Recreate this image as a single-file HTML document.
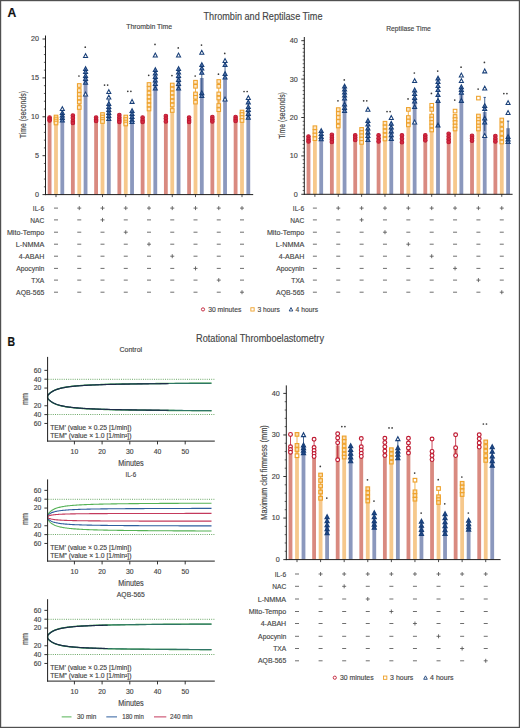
<!DOCTYPE html>
<html><head><meta charset="utf-8"><title>Figure</title>
<style>
html,body{margin:0;padding:0;background:#fff;}
body{width:520px;height:728px;overflow:hidden;}
svg{display:block;font-family:"Liberation Sans",sans-serif;}
text{stroke:currentColor;stroke-width:0.15px;}
</style></head><body>
<svg width="520" height="728" viewBox="0 0 520 728">
<rect x="0" y="0" width="520" height="728" fill="#ffffff"/>
<text x="7.4" y="17.3" font-size="12" fill="#111111" color="#111111" font-weight="bold" textLength="8.8" lengthAdjust="spacingAndGlyphs">A</text>
<text x="263" y="19.8" font-size="10.4" fill="#454545" color="#454545" text-anchor="middle" textLength="119" lengthAdjust="spacingAndGlyphs">Thrombin and Reptilase Time</text>
<text x="149.2" y="29.2" font-size="7.4" fill="#454545" color="#454545" text-anchor="middle" textLength="46" lengthAdjust="spacingAndGlyphs">Thrombin Time</text>
<text x="408.5" y="30.6" font-size="7.4" fill="#454545" color="#454545" text-anchor="middle" textLength="44.6" lengthAdjust="spacingAndGlyphs">Reptilase Time</text>
<rect x="47.7" y="119.5" width="3.8" height="75.1" fill="#d98a80"/>
<rect x="54.1" y="118" width="3.8" height="76.6" fill="#f6c88c"/>
<rect x="60.4" y="117" width="3.8" height="77.6" fill="#8b98bd"/>
<line x1="49.6" y1="117.5" x2="49.6" y2="120.5" stroke="#bf1a32" stroke-width="0.8"/>
<circle cx="49.6" cy="117.5" r="1.8" stroke="#bf1a32" fill="#d32a40" stroke-width="1.05"/>
<circle cx="49.6" cy="119" r="1.8" stroke="#bf1a32" fill="#d32a40" stroke-width="1.05"/>
<circle cx="49.6" cy="120.5" r="1.8" stroke="#bf1a32" fill="#d32a40" stroke-width="1.05"/>
<line x1="56" y1="117" x2="56" y2="123" stroke="#eea12a" stroke-width="0.8"/>
<rect x="54.2" y="115.2" width="3.6" height="3.6" stroke="#eea12a" fill="#fde6c4" stroke-width="1.05"/>
<rect x="54.2" y="117.2" width="3.6" height="3.6" stroke="#eea12a" fill="#fde6c4" stroke-width="1.05"/>
<rect x="54.2" y="119.2" width="3.6" height="3.6" stroke="#eea12a" fill="#fde6c4" stroke-width="1.05"/>
<rect x="54.2" y="121.2" width="3.6" height="3.6" stroke="#eea12a" fill="#fde6c4" stroke-width="1.05"/>
<line x1="62.3" y1="113" x2="62.3" y2="120.5" stroke="#183f78" stroke-width="0.8"/>
<polygon points="62.3,106.66 60.25,110.56 64.35,110.56" stroke="#183f78" fill="#ffffff" stroke-width="1.05" stroke-linejoin="miter"/>
<polygon points="62.3,110.66 60.25,114.56 64.35,114.56" stroke="#183f78" fill="#5d7fb6" stroke-width="1.05" stroke-linejoin="miter"/>
<polygon points="62.3,113.16 60.25,117.06 64.35,117.06" stroke="#183f78" fill="#5d7fb6" stroke-width="1.05" stroke-linejoin="miter"/>
<polygon points="62.3,115.66 60.25,119.56 64.35,119.56" stroke="#183f78" fill="#5d7fb6" stroke-width="1.05" stroke-linejoin="miter"/>
<polygon points="62.3,118.16 60.25,122.06 64.35,122.06" stroke="#183f78" fill="#5d7fb6" stroke-width="1.05" stroke-linejoin="miter"/>
<rect x="70.95" y="119" width="3.8" height="75.6" fill="#d98a80"/>
<rect x="77.35" y="96" width="3.8" height="98.6" fill="#f6c88c"/>
<rect x="83.65" y="78" width="3.8" height="116.6" fill="#8b98bd"/>
<line x1="72.85" y1="115.5" x2="72.85" y2="123" stroke="#bf1a32" stroke-width="0.8"/>
<circle cx="72.85" cy="115.5" r="1.8" stroke="#bf1a32" fill="#d32a40" stroke-width="1.05"/>
<circle cx="72.85" cy="118" r="1.8" stroke="#bf1a32" fill="#d32a40" stroke-width="1.05"/>
<circle cx="72.85" cy="121" r="1.8" stroke="#bf1a32" fill="#d32a40" stroke-width="1.05"/>
<circle cx="72.85" cy="123" r="1.8" stroke="#bf1a32" fill="#d32a40" stroke-width="1.05"/>
<line x1="79.25" y1="85.5" x2="79.25" y2="107.5" stroke="#eea12a" stroke-width="0.8"/>
<rect x="77.45" y="83.7" width="3.6" height="3.6" stroke="#eea12a" fill="#fde6c4" stroke-width="1.05"/>
<rect x="77.45" y="88.7" width="3.6" height="3.6" stroke="#eea12a" fill="#fde6c4" stroke-width="1.05"/>
<rect x="77.45" y="92.7" width="3.6" height="3.6" stroke="#eea12a" fill="#fde6c4" stroke-width="1.05"/>
<rect x="77.45" y="96.2" width="3.6" height="3.6" stroke="#eea12a" fill="#fde6c4" stroke-width="1.05"/>
<rect x="77.45" y="100.2" width="3.6" height="3.6" stroke="#eea12a" fill="#fde6c4" stroke-width="1.05"/>
<rect x="77.45" y="105.7" width="3.6" height="3.6" stroke="#eea12a" fill="#fde6c4" stroke-width="1.05"/>
<line x1="85.55" y1="69" x2="85.55" y2="82.6" stroke="#183f78" stroke-width="0.8"/>
<polygon points="85.55,53.66 83.5,57.56 87.6,57.56" stroke="#183f78" fill="#ffffff" stroke-width="1.05" stroke-linejoin="miter"/>
<polygon points="85.55,66.66 83.5,70.56 87.6,70.56" stroke="#183f78" fill="#5d7fb6" stroke-width="1.05" stroke-linejoin="miter"/>
<polygon points="85.55,69.66 83.5,73.56 87.6,73.56" stroke="#183f78" fill="#5d7fb6" stroke-width="1.05" stroke-linejoin="miter"/>
<polygon points="85.55,73.46 83.5,77.36 87.6,77.36" stroke="#183f78" fill="#5d7fb6" stroke-width="1.05" stroke-linejoin="miter"/>
<polygon points="85.55,76.66 83.5,80.56 87.6,80.56" stroke="#183f78" fill="#5d7fb6" stroke-width="1.05" stroke-linejoin="miter"/>
<polygon points="85.55,80.26 83.5,84.16 87.6,84.16" stroke="#183f78" fill="#5d7fb6" stroke-width="1.05" stroke-linejoin="miter"/>
<polygon points="85.55,92.06 83.5,95.96 87.6,95.96" stroke="#183f78" fill="#ffffff" stroke-width="1.05" stroke-linejoin="miter"/>
<circle cx="78.95" cy="76" r="0.85" stroke="none" fill="#3a3a3a" stroke-width="0"/>
<circle cx="85.25" cy="47.2" r="0.85" stroke="none" fill="#3a3a3a" stroke-width="0"/>
<rect x="94.2" y="119" width="3.8" height="75.6" fill="#d98a80"/>
<rect x="100.6" y="117" width="3.8" height="77.6" fill="#f6c88c"/>
<rect x="106.9" y="109" width="3.8" height="85.6" fill="#8b98bd"/>
<line x1="96.1" y1="117.5" x2="96.1" y2="121" stroke="#bf1a32" stroke-width="0.8"/>
<circle cx="96.1" cy="117.5" r="1.8" stroke="#bf1a32" fill="#d32a40" stroke-width="1.05"/>
<circle cx="96.1" cy="119.5" r="1.8" stroke="#bf1a32" fill="#d32a40" stroke-width="1.05"/>
<circle cx="96.1" cy="121" r="1.8" stroke="#bf1a32" fill="#d32a40" stroke-width="1.05"/>
<line x1="102.5" y1="114.5" x2="102.5" y2="121.5" stroke="#eea12a" stroke-width="0.8"/>
<rect x="100.7" y="112.7" width="3.6" height="3.6" stroke="#eea12a" fill="#fde6c4" stroke-width="1.05"/>
<rect x="100.7" y="115.2" width="3.6" height="3.6" stroke="#eea12a" fill="#fde6c4" stroke-width="1.05"/>
<rect x="100.7" y="117.7" width="3.6" height="3.6" stroke="#eea12a" fill="#fde6c4" stroke-width="1.05"/>
<rect x="100.7" y="119.7" width="3.6" height="3.6" stroke="#eea12a" fill="#fde6c4" stroke-width="1.05"/>
<line x1="108.8" y1="100" x2="108.8" y2="119" stroke="#183f78" stroke-width="0.8"/>
<line x1="107.6" y1="100" x2="110" y2="100" stroke="#183f78" stroke-width="0.8"/>
<polygon points="108.8,89.66 106.75,93.56 110.85,93.56" stroke="#183f78" fill="#ffffff" stroke-width="1.05" stroke-linejoin="miter"/>
<polygon points="108.8,95.16 106.75,99.06 110.85,99.06" stroke="#183f78" fill="#ffffff" stroke-width="1.05" stroke-linejoin="miter"/>
<polygon points="108.8,101.66 106.75,105.56 110.85,105.56" stroke="#183f78" fill="#5d7fb6" stroke-width="1.05" stroke-linejoin="miter"/>
<polygon points="108.8,104.66 106.75,108.56 110.85,108.56" stroke="#183f78" fill="#5d7fb6" stroke-width="1.05" stroke-linejoin="miter"/>
<polygon points="108.8,107.66 106.75,111.56 110.85,111.56" stroke="#183f78" fill="#5d7fb6" stroke-width="1.05" stroke-linejoin="miter"/>
<polygon points="108.8,110.66 106.75,114.56 110.85,114.56" stroke="#183f78" fill="#5d7fb6" stroke-width="1.05" stroke-linejoin="miter"/>
<polygon points="108.8,113.66 106.75,117.56 110.85,117.56" stroke="#183f78" fill="#5d7fb6" stroke-width="1.05" stroke-linejoin="miter"/>
<polygon points="108.8,116.66 106.75,120.56 110.85,120.56" stroke="#183f78" fill="#5d7fb6" stroke-width="1.05" stroke-linejoin="miter"/>
<circle cx="104.55" cy="85.1" r="0.85" stroke="none" fill="#3a3a3a" stroke-width="0"/>
<circle cx="107.65" cy="85.1" r="0.85" stroke="none" fill="#3a3a3a" stroke-width="0"/>
<rect x="117.45" y="118" width="3.8" height="76.6" fill="#d98a80"/>
<rect x="123.85" y="120" width="3.8" height="74.6" fill="#f6c88c"/>
<rect x="130.15" y="115" width="3.8" height="79.6" fill="#8b98bd"/>
<line x1="119.35" y1="115" x2="119.35" y2="122" stroke="#bf1a32" stroke-width="0.8"/>
<circle cx="119.35" cy="115" r="1.8" stroke="#bf1a32" fill="#d32a40" stroke-width="1.05"/>
<circle cx="119.35" cy="117.5" r="1.8" stroke="#bf1a32" fill="#d32a40" stroke-width="1.05"/>
<circle cx="119.35" cy="120" r="1.8" stroke="#bf1a32" fill="#d32a40" stroke-width="1.05"/>
<circle cx="119.35" cy="122" r="1.8" stroke="#bf1a32" fill="#d32a40" stroke-width="1.05"/>
<line x1="125.75" y1="117" x2="125.75" y2="124" stroke="#eea12a" stroke-width="0.8"/>
<rect x="123.95" y="115.2" width="3.6" height="3.6" stroke="#eea12a" fill="#fde6c4" stroke-width="1.05"/>
<rect x="123.95" y="117.7" width="3.6" height="3.6" stroke="#eea12a" fill="#fde6c4" stroke-width="1.05"/>
<rect x="123.95" y="120.2" width="3.6" height="3.6" stroke="#eea12a" fill="#fde6c4" stroke-width="1.05"/>
<rect x="123.95" y="122.2" width="3.6" height="3.6" stroke="#eea12a" fill="#fde6c4" stroke-width="1.05"/>
<line x1="132.05" y1="111" x2="132.05" y2="122" stroke="#183f78" stroke-width="0.8"/>
<polygon points="132.05,99.46 130,103.36 134.1,103.36" stroke="#183f78" fill="#ffffff" stroke-width="1.05" stroke-linejoin="miter"/>
<polygon points="132.05,108.66 130,112.56 134.1,112.56" stroke="#183f78" fill="#5d7fb6" stroke-width="1.05" stroke-linejoin="miter"/>
<polygon points="132.05,111.66 130,115.56 134.1,115.56" stroke="#183f78" fill="#5d7fb6" stroke-width="1.05" stroke-linejoin="miter"/>
<polygon points="132.05,114.66 130,118.56 134.1,118.56" stroke="#183f78" fill="#5d7fb6" stroke-width="1.05" stroke-linejoin="miter"/>
<polygon points="132.05,117.66 130,121.56 134.1,121.56" stroke="#183f78" fill="#5d7fb6" stroke-width="1.05" stroke-linejoin="miter"/>
<polygon points="132.05,119.66 130,123.56 134.1,123.56" stroke="#183f78" fill="#5d7fb6" stroke-width="1.05" stroke-linejoin="miter"/>
<circle cx="127.8" cy="91.3" r="0.85" stroke="none" fill="#3a3a3a" stroke-width="0"/>
<circle cx="130.9" cy="91.3" r="0.85" stroke="none" fill="#3a3a3a" stroke-width="0"/>
<rect x="140.7" y="120" width="3.8" height="74.6" fill="#d98a80"/>
<rect x="147.1" y="97" width="3.8" height="97.6" fill="#f6c88c"/>
<rect x="153.4" y="76" width="3.8" height="118.6" fill="#8b98bd"/>
<line x1="142.6" y1="117.5" x2="142.6" y2="122" stroke="#bf1a32" stroke-width="0.8"/>
<circle cx="142.6" cy="117.5" r="1.8" stroke="#bf1a32" fill="#d32a40" stroke-width="1.05"/>
<circle cx="142.6" cy="120" r="1.8" stroke="#bf1a32" fill="#d32a40" stroke-width="1.05"/>
<circle cx="142.6" cy="122" r="1.8" stroke="#bf1a32" fill="#d32a40" stroke-width="1.05"/>
<line x1="149" y1="84.5" x2="149" y2="109" stroke="#eea12a" stroke-width="0.8"/>
<rect x="147.2" y="82.7" width="3.6" height="3.6" stroke="#eea12a" fill="#fde6c4" stroke-width="1.05"/>
<rect x="147.2" y="86.7" width="3.6" height="3.6" stroke="#eea12a" fill="#fde6c4" stroke-width="1.05"/>
<rect x="147.2" y="91.2" width="3.6" height="3.6" stroke="#eea12a" fill="#fde6c4" stroke-width="1.05"/>
<rect x="147.2" y="95.2" width="3.6" height="3.6" stroke="#eea12a" fill="#fde6c4" stroke-width="1.05"/>
<rect x="147.2" y="99.2" width="3.6" height="3.6" stroke="#eea12a" fill="#fde6c4" stroke-width="1.05"/>
<rect x="147.2" y="103.2" width="3.6" height="3.6" stroke="#eea12a" fill="#fde6c4" stroke-width="1.05"/>
<rect x="147.2" y="107.2" width="3.6" height="3.6" stroke="#eea12a" fill="#fde6c4" stroke-width="1.05"/>
<line x1="155.3" y1="70" x2="155.3" y2="88.5" stroke="#183f78" stroke-width="0.8"/>
<polygon points="155.3,53.06 153.25,56.96 157.35,56.96" stroke="#183f78" fill="#ffffff" stroke-width="1.05" stroke-linejoin="miter"/>
<polygon points="155.3,67.66 153.25,71.56 157.35,71.56" stroke="#183f78" fill="#5d7fb6" stroke-width="1.05" stroke-linejoin="miter"/>
<polygon points="155.3,71.16 153.25,75.06 157.35,75.06" stroke="#183f78" fill="#5d7fb6" stroke-width="1.05" stroke-linejoin="miter"/>
<polygon points="155.3,74.66 153.25,78.56 157.35,78.56" stroke="#183f78" fill="#5d7fb6" stroke-width="1.05" stroke-linejoin="miter"/>
<polygon points="155.3,78.16 153.25,82.06 157.35,82.06" stroke="#183f78" fill="#5d7fb6" stroke-width="1.05" stroke-linejoin="miter"/>
<polygon points="155.3,81.66 153.25,85.56 157.35,85.56" stroke="#183f78" fill="#5d7fb6" stroke-width="1.05" stroke-linejoin="miter"/>
<polygon points="155.3,86.16 153.25,90.06 157.35,90.06" stroke="#183f78" fill="#5d7fb6" stroke-width="1.05" stroke-linejoin="miter"/>
<circle cx="148.7" cy="75.3" r="0.85" stroke="none" fill="#3a3a3a" stroke-width="0"/>
<circle cx="155" cy="44.4" r="0.85" stroke="none" fill="#3a3a3a" stroke-width="0"/>
<rect x="163.95" y="118" width="3.8" height="76.6" fill="#d98a80"/>
<rect x="170.35" y="97" width="3.8" height="97.6" fill="#f6c88c"/>
<rect x="176.65" y="76" width="3.8" height="118.6" fill="#8b98bd"/>
<line x1="165.85" y1="116" x2="165.85" y2="121.5" stroke="#bf1a32" stroke-width="0.8"/>
<circle cx="165.85" cy="116" r="1.8" stroke="#bf1a32" fill="#d32a40" stroke-width="1.05"/>
<circle cx="165.85" cy="118.5" r="1.8" stroke="#bf1a32" fill="#d32a40" stroke-width="1.05"/>
<circle cx="165.85" cy="121.5" r="1.8" stroke="#bf1a32" fill="#d32a40" stroke-width="1.05"/>
<line x1="172.25" y1="85" x2="172.25" y2="110.5" stroke="#eea12a" stroke-width="0.8"/>
<rect x="170.45" y="83.2" width="3.6" height="3.6" stroke="#eea12a" fill="#fde6c4" stroke-width="1.05"/>
<rect x="170.45" y="87.2" width="3.6" height="3.6" stroke="#eea12a" fill="#fde6c4" stroke-width="1.05"/>
<rect x="170.45" y="91.2" width="3.6" height="3.6" stroke="#eea12a" fill="#fde6c4" stroke-width="1.05"/>
<rect x="170.45" y="95.2" width="3.6" height="3.6" stroke="#eea12a" fill="#fde6c4" stroke-width="1.05"/>
<rect x="170.45" y="99.2" width="3.6" height="3.6" stroke="#eea12a" fill="#fde6c4" stroke-width="1.05"/>
<rect x="170.45" y="103.2" width="3.6" height="3.6" stroke="#eea12a" fill="#fde6c4" stroke-width="1.05"/>
<rect x="170.45" y="108.7" width="3.6" height="3.6" stroke="#eea12a" fill="#fde6c4" stroke-width="1.05"/>
<line x1="178.55" y1="69" x2="178.55" y2="88.5" stroke="#183f78" stroke-width="0.8"/>
<polygon points="178.55,53.06 176.5,56.96 180.6,56.96" stroke="#183f78" fill="#ffffff" stroke-width="1.05" stroke-linejoin="miter"/>
<polygon points="178.55,66.66 176.5,70.56 180.6,70.56" stroke="#183f78" fill="#5d7fb6" stroke-width="1.05" stroke-linejoin="miter"/>
<polygon points="178.55,70.16 176.5,74.06 180.6,74.06" stroke="#183f78" fill="#5d7fb6" stroke-width="1.05" stroke-linejoin="miter"/>
<polygon points="178.55,73.66 176.5,77.56 180.6,77.56" stroke="#183f78" fill="#5d7fb6" stroke-width="1.05" stroke-linejoin="miter"/>
<polygon points="178.55,77.66 176.5,81.56 180.6,81.56" stroke="#183f78" fill="#5d7fb6" stroke-width="1.05" stroke-linejoin="miter"/>
<polygon points="178.55,81.66 176.5,85.56 180.6,85.56" stroke="#183f78" fill="#5d7fb6" stroke-width="1.05" stroke-linejoin="miter"/>
<polygon points="178.55,86.16 176.5,90.06 180.6,90.06" stroke="#183f78" fill="#5d7fb6" stroke-width="1.05" stroke-linejoin="miter"/>
<circle cx="171.95" cy="75.6" r="0.85" stroke="none" fill="#3a3a3a" stroke-width="0"/>
<circle cx="178.25" cy="47.9" r="0.85" stroke="none" fill="#3a3a3a" stroke-width="0"/>
<rect x="187.2" y="120" width="3.8" height="74.6" fill="#d98a80"/>
<rect x="193.6" y="92" width="3.8" height="102.6" fill="#f6c88c"/>
<rect x="199.9" y="78" width="3.8" height="116.6" fill="#8b98bd"/>
<line x1="189.1" y1="117.5" x2="189.1" y2="122" stroke="#bf1a32" stroke-width="0.8"/>
<circle cx="189.1" cy="117.5" r="1.8" stroke="#bf1a32" fill="#d32a40" stroke-width="1.05"/>
<circle cx="189.1" cy="120" r="1.8" stroke="#bf1a32" fill="#d32a40" stroke-width="1.05"/>
<circle cx="189.1" cy="122" r="1.8" stroke="#bf1a32" fill="#d32a40" stroke-width="1.05"/>
<line x1="195.5" y1="82.2" x2="195.5" y2="102.1" stroke="#eea12a" stroke-width="0.8"/>
<rect x="193.7" y="80.4" width="3.6" height="3.6" stroke="#eea12a" fill="#fde6c4" stroke-width="1.05"/>
<rect x="193.7" y="84.5" width="3.6" height="3.6" stroke="#eea12a" fill="#fde6c4" stroke-width="1.05"/>
<rect x="193.7" y="92.1" width="3.6" height="3.6" stroke="#eea12a" fill="#fde6c4" stroke-width="1.05"/>
<rect x="193.7" y="95.5" width="3.6" height="3.6" stroke="#eea12a" fill="#fde6c4" stroke-width="1.05"/>
<rect x="193.7" y="100.3" width="3.6" height="3.6" stroke="#eea12a" fill="#fde6c4" stroke-width="1.05"/>
<line x1="201.8" y1="65" x2="201.8" y2="96" stroke="#183f78" stroke-width="0.8"/>
<polygon points="201.8,50.36 199.75,54.26 203.85,54.26" stroke="#183f78" fill="#ffffff" stroke-width="1.05" stroke-linejoin="miter"/>
<polygon points="201.8,62.66 199.75,66.56 203.85,66.56" stroke="#183f78" fill="#5d7fb6" stroke-width="1.05" stroke-linejoin="miter"/>
<polygon points="201.8,66.16 199.75,70.06 203.85,70.06" stroke="#183f78" fill="#5d7fb6" stroke-width="1.05" stroke-linejoin="miter"/>
<polygon points="201.8,70.26 199.75,74.16 203.85,74.16" stroke="#183f78" fill="#5d7fb6" stroke-width="1.05" stroke-linejoin="miter"/>
<polygon points="201.8,90.86 199.75,94.76 203.85,94.76" stroke="#183f78" fill="#5d7fb6" stroke-width="1.05" stroke-linejoin="miter"/>
<polygon points="201.8,93.66 199.75,97.56 203.85,97.56" stroke="#183f78" fill="#5d7fb6" stroke-width="1.05" stroke-linejoin="miter"/>
<circle cx="195.2" cy="76" r="0.85" stroke="none" fill="#3a3a3a" stroke-width="0"/>
<circle cx="201.5" cy="45.1" r="0.85" stroke="none" fill="#3a3a3a" stroke-width="0"/>
<rect x="210.45" y="119" width="3.8" height="75.6" fill="#d98a80"/>
<rect x="216.85" y="96" width="3.8" height="98.6" fill="#f6c88c"/>
<rect x="223.15" y="79" width="3.8" height="115.6" fill="#8b98bd"/>
<line x1="212.35" y1="117" x2="212.35" y2="121.5" stroke="#bf1a32" stroke-width="0.8"/>
<circle cx="212.35" cy="117" r="1.8" stroke="#bf1a32" fill="#d32a40" stroke-width="1.05"/>
<circle cx="212.35" cy="119.3" r="1.8" stroke="#bf1a32" fill="#d32a40" stroke-width="1.05"/>
<circle cx="212.35" cy="121.5" r="1.8" stroke="#bf1a32" fill="#d32a40" stroke-width="1.05"/>
<line x1="218.75" y1="81.5" x2="218.75" y2="109.7" stroke="#eea12a" stroke-width="0.8"/>
<rect x="216.95" y="79.7" width="3.6" height="3.6" stroke="#eea12a" fill="#fde6c4" stroke-width="1.05"/>
<rect x="216.95" y="84.5" width="3.6" height="3.6" stroke="#eea12a" fill="#fde6c4" stroke-width="1.05"/>
<rect x="216.95" y="92.1" width="3.6" height="3.6" stroke="#eea12a" fill="#fde6c4" stroke-width="1.05"/>
<rect x="216.95" y="96.2" width="3.6" height="3.6" stroke="#eea12a" fill="#fde6c4" stroke-width="1.05"/>
<rect x="216.95" y="103.7" width="3.6" height="3.6" stroke="#eea12a" fill="#fde6c4" stroke-width="1.05"/>
<rect x="216.95" y="107.9" width="3.6" height="3.6" stroke="#eea12a" fill="#fde6c4" stroke-width="1.05"/>
<line x1="225.05" y1="65" x2="225.05" y2="77.4" stroke="#183f78" stroke-width="0.8"/>
<polygon points="225.05,58.56 223,62.46 227.1,62.46" stroke="#183f78" fill="#ffffff" stroke-width="1.05" stroke-linejoin="miter"/>
<polygon points="225.05,62.66 223,66.56 227.1,66.56" stroke="#183f78" fill="#5d7fb6" stroke-width="1.05" stroke-linejoin="miter"/>
<polygon points="225.05,71.66 223,75.56 227.1,75.56" stroke="#183f78" fill="#5d7fb6" stroke-width="1.05" stroke-linejoin="miter"/>
<polygon points="225.05,75.06 223,78.96 227.1,78.96" stroke="#183f78" fill="#5d7fb6" stroke-width="1.05" stroke-linejoin="miter"/>
<polygon points="225.05,97.06 223,100.96 227.1,100.96" stroke="#183f78" fill="#ffffff" stroke-width="1.05" stroke-linejoin="miter"/>
<circle cx="218.45" cy="74.2" r="0.85" stroke="none" fill="#3a3a3a" stroke-width="0"/>
<circle cx="224.75" cy="53.4" r="0.85" stroke="none" fill="#3a3a3a" stroke-width="0"/>
<rect x="233.7" y="119" width="3.8" height="75.6" fill="#d98a80"/>
<rect x="240.1" y="116" width="3.8" height="78.6" fill="#f6c88c"/>
<rect x="246.4" y="110" width="3.8" height="84.6" fill="#8b98bd"/>
<line x1="235.6" y1="117" x2="235.6" y2="121" stroke="#bf1a32" stroke-width="0.8"/>
<circle cx="235.6" cy="117" r="1.8" stroke="#bf1a32" fill="#d32a40" stroke-width="1.05"/>
<circle cx="235.6" cy="119.1" r="1.8" stroke="#bf1a32" fill="#d32a40" stroke-width="1.05"/>
<circle cx="235.6" cy="121" r="1.8" stroke="#bf1a32" fill="#d32a40" stroke-width="1.05"/>
<line x1="242" y1="112" x2="242" y2="120.5" stroke="#eea12a" stroke-width="0.8"/>
<rect x="240.2" y="110.2" width="3.6" height="3.6" stroke="#eea12a" fill="#fde6c4" stroke-width="1.05"/>
<rect x="240.2" y="112.7" width="3.6" height="3.6" stroke="#eea12a" fill="#fde6c4" stroke-width="1.05"/>
<rect x="240.2" y="115.7" width="3.6" height="3.6" stroke="#eea12a" fill="#fde6c4" stroke-width="1.05"/>
<rect x="240.2" y="118.7" width="3.6" height="3.6" stroke="#eea12a" fill="#fde6c4" stroke-width="1.05"/>
<line x1="248.3" y1="102.3" x2="248.3" y2="117.7" stroke="#183f78" stroke-width="0.8"/>
<polygon points="248.3,95.66 246.25,99.56 250.35,99.56" stroke="#183f78" fill="#ffffff" stroke-width="1.05" stroke-linejoin="miter"/>
<polygon points="248.3,99.96 246.25,103.86 250.35,103.86" stroke="#183f78" fill="#5d7fb6" stroke-width="1.05" stroke-linejoin="miter"/>
<polygon points="248.3,104.66 246.25,108.56 250.35,108.56" stroke="#183f78" fill="#5d7fb6" stroke-width="1.05" stroke-linejoin="miter"/>
<polygon points="248.3,107.66 246.25,111.56 250.35,111.56" stroke="#183f78" fill="#5d7fb6" stroke-width="1.05" stroke-linejoin="miter"/>
<polygon points="248.3,111.46 246.25,115.36 250.35,115.36" stroke="#183f78" fill="#5d7fb6" stroke-width="1.05" stroke-linejoin="miter"/>
<polygon points="248.3,115.36 246.25,119.26 250.35,119.26" stroke="#183f78" fill="#5d7fb6" stroke-width="1.05" stroke-linejoin="miter"/>
<circle cx="244.05" cy="91.5" r="0.85" stroke="none" fill="#3a3a3a" stroke-width="0"/>
<circle cx="247.15" cy="91.5" r="0.85" stroke="none" fill="#3a3a3a" stroke-width="0"/>
<line x1="45.5" y1="35.5" x2="45.5" y2="195.1" stroke="#1e1e1e" stroke-width="1"/>
<line x1="45" y1="194.6" x2="253.2" y2="194.6" stroke="#1e1e1e" stroke-width="1"/>
<line x1="42.5" y1="194.6" x2="45.5" y2="194.6" stroke="#1e1e1e" stroke-width="0.9"/>
<text x="38.9" y="197" font-size="7.2" fill="#454545" color="#454545" text-anchor="end">0</text>
<line x1="42.5" y1="155.7" x2="45.5" y2="155.7" stroke="#1e1e1e" stroke-width="0.9"/>
<text x="38.9" y="158.1" font-size="7.2" fill="#454545" color="#454545" text-anchor="end">5</text>
<line x1="42.5" y1="116.8" x2="45.5" y2="116.8" stroke="#1e1e1e" stroke-width="0.9"/>
<text x="38.9" y="119.2" font-size="7.2" fill="#454545" color="#454545" text-anchor="end">10</text>
<line x1="42.5" y1="77.9" x2="45.5" y2="77.9" stroke="#1e1e1e" stroke-width="0.9"/>
<text x="38.9" y="80.3" font-size="7.2" fill="#454545" color="#454545" text-anchor="end">15</text>
<line x1="42.5" y1="39" x2="45.5" y2="39" stroke="#1e1e1e" stroke-width="0.9"/>
<text x="38.9" y="41.4" font-size="7.2" fill="#454545" color="#454545" text-anchor="end">20</text>
<line x1="43.9" y1="186.82" x2="45.5" y2="186.82" stroke="#1e1e1e" stroke-width="0.7"/>
<line x1="43.9" y1="179.04" x2="45.5" y2="179.04" stroke="#1e1e1e" stroke-width="0.7"/>
<line x1="43.9" y1="171.26" x2="45.5" y2="171.26" stroke="#1e1e1e" stroke-width="0.7"/>
<line x1="43.9" y1="163.48" x2="45.5" y2="163.48" stroke="#1e1e1e" stroke-width="0.7"/>
<line x1="43.9" y1="147.92" x2="45.5" y2="147.92" stroke="#1e1e1e" stroke-width="0.7"/>
<line x1="43.9" y1="140.14" x2="45.5" y2="140.14" stroke="#1e1e1e" stroke-width="0.7"/>
<line x1="43.9" y1="132.36" x2="45.5" y2="132.36" stroke="#1e1e1e" stroke-width="0.7"/>
<line x1="43.9" y1="124.58" x2="45.5" y2="124.58" stroke="#1e1e1e" stroke-width="0.7"/>
<line x1="43.9" y1="109.02" x2="45.5" y2="109.02" stroke="#1e1e1e" stroke-width="0.7"/>
<line x1="43.9" y1="101.24" x2="45.5" y2="101.24" stroke="#1e1e1e" stroke-width="0.7"/>
<line x1="43.9" y1="93.46" x2="45.5" y2="93.46" stroke="#1e1e1e" stroke-width="0.7"/>
<line x1="43.9" y1="85.68" x2="45.5" y2="85.68" stroke="#1e1e1e" stroke-width="0.7"/>
<line x1="43.9" y1="70.12" x2="45.5" y2="70.12" stroke="#1e1e1e" stroke-width="0.7"/>
<line x1="43.9" y1="62.34" x2="45.5" y2="62.34" stroke="#1e1e1e" stroke-width="0.7"/>
<line x1="43.9" y1="54.56" x2="45.5" y2="54.56" stroke="#1e1e1e" stroke-width="0.7"/>
<line x1="43.9" y1="46.78" x2="45.5" y2="46.78" stroke="#1e1e1e" stroke-width="0.7"/>
<line x1="56" y1="194.6" x2="56" y2="197.1" stroke="#1e1e1e" stroke-width="0.8"/>
<line x1="79.25" y1="194.6" x2="79.25" y2="197.1" stroke="#1e1e1e" stroke-width="0.8"/>
<line x1="102.5" y1="194.6" x2="102.5" y2="197.1" stroke="#1e1e1e" stroke-width="0.8"/>
<line x1="125.75" y1="194.6" x2="125.75" y2="197.1" stroke="#1e1e1e" stroke-width="0.8"/>
<line x1="149" y1="194.6" x2="149" y2="197.1" stroke="#1e1e1e" stroke-width="0.8"/>
<line x1="172.25" y1="194.6" x2="172.25" y2="197.1" stroke="#1e1e1e" stroke-width="0.8"/>
<line x1="195.5" y1="194.6" x2="195.5" y2="197.1" stroke="#1e1e1e" stroke-width="0.8"/>
<line x1="218.75" y1="194.6" x2="218.75" y2="197.1" stroke="#1e1e1e" stroke-width="0.8"/>
<line x1="242" y1="194.6" x2="242" y2="197.1" stroke="#1e1e1e" stroke-width="0.8"/>
<text x="25.6" y="114.6" font-size="8.2" fill="#454545" color="#454545" text-anchor="middle" textLength="47.2" lengthAdjust="spacingAndGlyphs" transform="rotate(-90 25.6 114.6)">Time (seconds)</text>
<text x="44.3" y="210.7" font-size="7.4" fill="#454545" color="#454545" text-anchor="end" textLength="11.5" lengthAdjust="spacingAndGlyphs">IL-6</text>
<line x1="54" y1="208.1" x2="58" y2="208.1" stroke="#555555" stroke-width="0.85"/>
<line x1="77.25" y1="208.1" x2="81.25" y2="208.1" stroke="#555555" stroke-width="0.85"/>
<line x1="79.25" y1="206.1" x2="79.25" y2="210.1" stroke="#555555" stroke-width="0.85"/>
<line x1="100.5" y1="208.1" x2="104.5" y2="208.1" stroke="#555555" stroke-width="0.85"/>
<line x1="102.5" y1="206.1" x2="102.5" y2="210.1" stroke="#555555" stroke-width="0.85"/>
<line x1="123.75" y1="208.1" x2="127.75" y2="208.1" stroke="#555555" stroke-width="0.85"/>
<line x1="125.75" y1="206.1" x2="125.75" y2="210.1" stroke="#555555" stroke-width="0.85"/>
<line x1="147" y1="208.1" x2="151" y2="208.1" stroke="#555555" stroke-width="0.85"/>
<line x1="149" y1="206.1" x2="149" y2="210.1" stroke="#555555" stroke-width="0.85"/>
<line x1="170.25" y1="208.1" x2="174.25" y2="208.1" stroke="#555555" stroke-width="0.85"/>
<line x1="172.25" y1="206.1" x2="172.25" y2="210.1" stroke="#555555" stroke-width="0.85"/>
<line x1="193.5" y1="208.1" x2="197.5" y2="208.1" stroke="#555555" stroke-width="0.85"/>
<line x1="195.5" y1="206.1" x2="195.5" y2="210.1" stroke="#555555" stroke-width="0.85"/>
<line x1="216.75" y1="208.1" x2="220.75" y2="208.1" stroke="#555555" stroke-width="0.85"/>
<line x1="218.75" y1="206.1" x2="218.75" y2="210.1" stroke="#555555" stroke-width="0.85"/>
<line x1="240" y1="208.1" x2="244" y2="208.1" stroke="#555555" stroke-width="0.85"/>
<line x1="242" y1="206.1" x2="242" y2="210.1" stroke="#555555" stroke-width="0.85"/>
<text x="44.3" y="222.5" font-size="7.4" fill="#454545" color="#454545" text-anchor="end" textLength="14" lengthAdjust="spacingAndGlyphs">NAC</text>
<line x1="54" y1="219.9" x2="58" y2="219.9" stroke="#555555" stroke-width="0.85"/>
<line x1="77.25" y1="219.9" x2="81.25" y2="219.9" stroke="#555555" stroke-width="0.85"/>
<line x1="100.5" y1="219.9" x2="104.5" y2="219.9" stroke="#555555" stroke-width="0.85"/>
<line x1="102.5" y1="217.9" x2="102.5" y2="221.9" stroke="#555555" stroke-width="0.85"/>
<line x1="123.75" y1="219.9" x2="127.75" y2="219.9" stroke="#555555" stroke-width="0.85"/>
<line x1="147" y1="219.9" x2="151" y2="219.9" stroke="#555555" stroke-width="0.85"/>
<line x1="170.25" y1="219.9" x2="174.25" y2="219.9" stroke="#555555" stroke-width="0.85"/>
<line x1="193.5" y1="219.9" x2="197.5" y2="219.9" stroke="#555555" stroke-width="0.85"/>
<line x1="216.75" y1="219.9" x2="220.75" y2="219.9" stroke="#555555" stroke-width="0.85"/>
<line x1="240" y1="219.9" x2="244" y2="219.9" stroke="#555555" stroke-width="0.85"/>
<text x="44.3" y="234.8" font-size="7.4" fill="#454545" color="#454545" text-anchor="end" textLength="37.4" lengthAdjust="spacingAndGlyphs">Mito-Tempo</text>
<line x1="54" y1="232.2" x2="58" y2="232.2" stroke="#555555" stroke-width="0.85"/>
<line x1="77.25" y1="232.2" x2="81.25" y2="232.2" stroke="#555555" stroke-width="0.85"/>
<line x1="100.5" y1="232.2" x2="104.5" y2="232.2" stroke="#555555" stroke-width="0.85"/>
<line x1="123.75" y1="232.2" x2="127.75" y2="232.2" stroke="#555555" stroke-width="0.85"/>
<line x1="125.75" y1="230.2" x2="125.75" y2="234.2" stroke="#555555" stroke-width="0.85"/>
<line x1="147" y1="232.2" x2="151" y2="232.2" stroke="#555555" stroke-width="0.85"/>
<line x1="170.25" y1="232.2" x2="174.25" y2="232.2" stroke="#555555" stroke-width="0.85"/>
<line x1="193.5" y1="232.2" x2="197.5" y2="232.2" stroke="#555555" stroke-width="0.85"/>
<line x1="216.75" y1="232.2" x2="220.75" y2="232.2" stroke="#555555" stroke-width="0.85"/>
<line x1="240" y1="232.2" x2="244" y2="232.2" stroke="#555555" stroke-width="0.85"/>
<text x="44.3" y="246.8" font-size="7.4" fill="#454545" color="#454545" text-anchor="end" textLength="28.5" lengthAdjust="spacingAndGlyphs">L-NMMA</text>
<line x1="54" y1="244.2" x2="58" y2="244.2" stroke="#555555" stroke-width="0.85"/>
<line x1="77.25" y1="244.2" x2="81.25" y2="244.2" stroke="#555555" stroke-width="0.85"/>
<line x1="100.5" y1="244.2" x2="104.5" y2="244.2" stroke="#555555" stroke-width="0.85"/>
<line x1="123.75" y1="244.2" x2="127.75" y2="244.2" stroke="#555555" stroke-width="0.85"/>
<line x1="147" y1="244.2" x2="151" y2="244.2" stroke="#555555" stroke-width="0.85"/>
<line x1="149" y1="242.2" x2="149" y2="246.2" stroke="#555555" stroke-width="0.85"/>
<line x1="170.25" y1="244.2" x2="174.25" y2="244.2" stroke="#555555" stroke-width="0.85"/>
<line x1="193.5" y1="244.2" x2="197.5" y2="244.2" stroke="#555555" stroke-width="0.85"/>
<line x1="216.75" y1="244.2" x2="220.75" y2="244.2" stroke="#555555" stroke-width="0.85"/>
<line x1="240" y1="244.2" x2="244" y2="244.2" stroke="#555555" stroke-width="0.85"/>
<text x="44.3" y="258.8" font-size="7.4" fill="#454545" color="#454545" text-anchor="end" textLength="25.5" lengthAdjust="spacingAndGlyphs">4-ABAH</text>
<line x1="54" y1="256.2" x2="58" y2="256.2" stroke="#555555" stroke-width="0.85"/>
<line x1="77.25" y1="256.2" x2="81.25" y2="256.2" stroke="#555555" stroke-width="0.85"/>
<line x1="100.5" y1="256.2" x2="104.5" y2="256.2" stroke="#555555" stroke-width="0.85"/>
<line x1="123.75" y1="256.2" x2="127.75" y2="256.2" stroke="#555555" stroke-width="0.85"/>
<line x1="147" y1="256.2" x2="151" y2="256.2" stroke="#555555" stroke-width="0.85"/>
<line x1="170.25" y1="256.2" x2="174.25" y2="256.2" stroke="#555555" stroke-width="0.85"/>
<line x1="172.25" y1="254.2" x2="172.25" y2="258.2" stroke="#555555" stroke-width="0.85"/>
<line x1="193.5" y1="256.2" x2="197.5" y2="256.2" stroke="#555555" stroke-width="0.85"/>
<line x1="216.75" y1="256.2" x2="220.75" y2="256.2" stroke="#555555" stroke-width="0.85"/>
<line x1="240" y1="256.2" x2="244" y2="256.2" stroke="#555555" stroke-width="0.85"/>
<text x="44.3" y="271" font-size="7.4" fill="#454545" color="#454545" text-anchor="end" textLength="28.1" lengthAdjust="spacingAndGlyphs">Apocynin</text>
<line x1="54" y1="268.4" x2="58" y2="268.4" stroke="#555555" stroke-width="0.85"/>
<line x1="77.25" y1="268.4" x2="81.25" y2="268.4" stroke="#555555" stroke-width="0.85"/>
<line x1="100.5" y1="268.4" x2="104.5" y2="268.4" stroke="#555555" stroke-width="0.85"/>
<line x1="123.75" y1="268.4" x2="127.75" y2="268.4" stroke="#555555" stroke-width="0.85"/>
<line x1="147" y1="268.4" x2="151" y2="268.4" stroke="#555555" stroke-width="0.85"/>
<line x1="170.25" y1="268.4" x2="174.25" y2="268.4" stroke="#555555" stroke-width="0.85"/>
<line x1="193.5" y1="268.4" x2="197.5" y2="268.4" stroke="#555555" stroke-width="0.85"/>
<line x1="195.5" y1="266.4" x2="195.5" y2="270.4" stroke="#555555" stroke-width="0.85"/>
<line x1="216.75" y1="268.4" x2="220.75" y2="268.4" stroke="#555555" stroke-width="0.85"/>
<line x1="240" y1="268.4" x2="244" y2="268.4" stroke="#555555" stroke-width="0.85"/>
<text x="44.3" y="282.7" font-size="7.4" fill="#454545" color="#454545" text-anchor="end" textLength="13" lengthAdjust="spacingAndGlyphs">TXA</text>
<line x1="54" y1="280.1" x2="58" y2="280.1" stroke="#555555" stroke-width="0.85"/>
<line x1="77.25" y1="280.1" x2="81.25" y2="280.1" stroke="#555555" stroke-width="0.85"/>
<line x1="100.5" y1="280.1" x2="104.5" y2="280.1" stroke="#555555" stroke-width="0.85"/>
<line x1="123.75" y1="280.1" x2="127.75" y2="280.1" stroke="#555555" stroke-width="0.85"/>
<line x1="147" y1="280.1" x2="151" y2="280.1" stroke="#555555" stroke-width="0.85"/>
<line x1="170.25" y1="280.1" x2="174.25" y2="280.1" stroke="#555555" stroke-width="0.85"/>
<line x1="193.5" y1="280.1" x2="197.5" y2="280.1" stroke="#555555" stroke-width="0.85"/>
<line x1="216.75" y1="280.1" x2="220.75" y2="280.1" stroke="#555555" stroke-width="0.85"/>
<line x1="218.75" y1="278.1" x2="218.75" y2="282.1" stroke="#555555" stroke-width="0.85"/>
<line x1="240" y1="280.1" x2="244" y2="280.1" stroke="#555555" stroke-width="0.85"/>
<text x="44.3" y="294.8" font-size="7.4" fill="#454545" color="#454545" text-anchor="end" textLength="28.2" lengthAdjust="spacingAndGlyphs">AQB-565</text>
<line x1="54" y1="292.2" x2="58" y2="292.2" stroke="#555555" stroke-width="0.85"/>
<line x1="77.25" y1="292.2" x2="81.25" y2="292.2" stroke="#555555" stroke-width="0.85"/>
<line x1="100.5" y1="292.2" x2="104.5" y2="292.2" stroke="#555555" stroke-width="0.85"/>
<line x1="123.75" y1="292.2" x2="127.75" y2="292.2" stroke="#555555" stroke-width="0.85"/>
<line x1="147" y1="292.2" x2="151" y2="292.2" stroke="#555555" stroke-width="0.85"/>
<line x1="170.25" y1="292.2" x2="174.25" y2="292.2" stroke="#555555" stroke-width="0.85"/>
<line x1="193.5" y1="292.2" x2="197.5" y2="292.2" stroke="#555555" stroke-width="0.85"/>
<line x1="216.75" y1="292.2" x2="220.75" y2="292.2" stroke="#555555" stroke-width="0.85"/>
<line x1="240" y1="292.2" x2="244" y2="292.2" stroke="#555555" stroke-width="0.85"/>
<line x1="242" y1="290.2" x2="242" y2="294.2" stroke="#555555" stroke-width="0.85"/>
<rect x="306.6" y="139" width="3.8" height="55.3" fill="#d98a80"/>
<rect x="313" y="133" width="3.8" height="61.3" fill="#f6c88c"/>
<rect x="319.3" y="135" width="3.8" height="59.3" fill="#8b98bd"/>
<line x1="308.5" y1="136.5" x2="308.5" y2="141.4" stroke="#bf1a32" stroke-width="0.8"/>
<circle cx="308.5" cy="136.5" r="1.8" stroke="#bf1a32" fill="#d32a40" stroke-width="1.05"/>
<circle cx="308.5" cy="139" r="1.8" stroke="#bf1a32" fill="#d32a40" stroke-width="1.05"/>
<circle cx="308.5" cy="141.4" r="1.8" stroke="#bf1a32" fill="#d32a40" stroke-width="1.05"/>
<line x1="314.9" y1="127.7" x2="314.9" y2="138.7" stroke="#eea12a" stroke-width="0.8"/>
<rect x="313.1" y="125.9" width="3.6" height="3.6" stroke="#eea12a" fill="#fde6c4" stroke-width="1.05"/>
<rect x="313.1" y="129.7" width="3.6" height="3.6" stroke="#eea12a" fill="#fde6c4" stroke-width="1.05"/>
<rect x="313.1" y="133.2" width="3.6" height="3.6" stroke="#eea12a" fill="#fde6c4" stroke-width="1.05"/>
<rect x="313.1" y="136.9" width="3.6" height="3.6" stroke="#eea12a" fill="#fde6c4" stroke-width="1.05"/>
<line x1="321.2" y1="131" x2="321.2" y2="139.2" stroke="#183f78" stroke-width="0.8"/>
<polygon points="321.2,128.66 319.15,132.56 323.25,132.56" stroke="#183f78" fill="#5d7fb6" stroke-width="1.05" stroke-linejoin="miter"/>
<polygon points="321.2,131.66 319.15,135.56 323.25,135.56" stroke="#183f78" fill="#5d7fb6" stroke-width="1.05" stroke-linejoin="miter"/>
<polygon points="321.2,134.66 319.15,138.56 323.25,138.56" stroke="#183f78" fill="#5d7fb6" stroke-width="1.05" stroke-linejoin="miter"/>
<polygon points="321.2,136.86 319.15,140.76 323.25,140.76" stroke="#183f78" fill="#5d7fb6" stroke-width="1.05" stroke-linejoin="miter"/>
<rect x="329.96" y="138" width="3.8" height="56.3" fill="#d98a80"/>
<rect x="336.36" y="117" width="3.8" height="77.3" fill="#f6c88c"/>
<rect x="342.66" y="99" width="3.8" height="95.3" fill="#8b98bd"/>
<line x1="331.86" y1="134.8" x2="331.86" y2="142" stroke="#bf1a32" stroke-width="0.8"/>
<circle cx="331.86" cy="134.8" r="1.8" stroke="#bf1a32" fill="#d32a40" stroke-width="1.05"/>
<circle cx="331.86" cy="137.2" r="1.8" stroke="#bf1a32" fill="#d32a40" stroke-width="1.05"/>
<circle cx="331.86" cy="139.6" r="1.8" stroke="#bf1a32" fill="#d32a40" stroke-width="1.05"/>
<circle cx="331.86" cy="142" r="1.8" stroke="#bf1a32" fill="#d32a40" stroke-width="1.05"/>
<line x1="338.26" y1="109.6" x2="338.26" y2="126" stroke="#eea12a" stroke-width="0.8"/>
<rect x="336.46" y="107.8" width="3.6" height="3.6" stroke="#eea12a" fill="#fde6c4" stroke-width="1.05"/>
<rect x="336.46" y="111.7" width="3.6" height="3.6" stroke="#eea12a" fill="#fde6c4" stroke-width="1.05"/>
<rect x="336.46" y="115.7" width="3.6" height="3.6" stroke="#eea12a" fill="#fde6c4" stroke-width="1.05"/>
<rect x="336.46" y="119.7" width="3.6" height="3.6" stroke="#eea12a" fill="#fde6c4" stroke-width="1.05"/>
<rect x="336.46" y="124.2" width="3.6" height="3.6" stroke="#eea12a" fill="#fde6c4" stroke-width="1.05"/>
<line x1="344.56" y1="86.5" x2="344.56" y2="111" stroke="#183f78" stroke-width="0.8"/>
<polygon points="344.56,84.16 342.51,88.06 346.61,88.06" stroke="#183f78" fill="#5d7fb6" stroke-width="1.05" stroke-linejoin="miter"/>
<polygon points="344.56,87.16 342.51,91.06 346.61,91.06" stroke="#183f78" fill="#5d7fb6" stroke-width="1.05" stroke-linejoin="miter"/>
<polygon points="344.56,90.16 342.51,94.06 346.61,94.06" stroke="#183f78" fill="#5d7fb6" stroke-width="1.05" stroke-linejoin="miter"/>
<polygon points="344.56,93.16 342.51,97.06 346.61,97.06" stroke="#183f78" fill="#5d7fb6" stroke-width="1.05" stroke-linejoin="miter"/>
<polygon points="344.56,96.16 342.51,100.06 346.61,100.06" stroke="#183f78" fill="#5d7fb6" stroke-width="1.05" stroke-linejoin="miter"/>
<polygon points="344.56,102.16 342.51,106.06 346.61,106.06" stroke="#183f78" fill="#5d7fb6" stroke-width="1.05" stroke-linejoin="miter"/>
<polygon points="344.56,105.66 342.51,109.56 346.61,109.56" stroke="#183f78" fill="#5d7fb6" stroke-width="1.05" stroke-linejoin="miter"/>
<polygon points="344.56,108.66 342.51,112.56 346.61,112.56" stroke="#183f78" fill="#5d7fb6" stroke-width="1.05" stroke-linejoin="miter"/>
<circle cx="337.96" cy="100.8" r="0.85" stroke="none" fill="#3a3a3a" stroke-width="0"/>
<circle cx="344.26" cy="79.9" r="0.85" stroke="none" fill="#3a3a3a" stroke-width="0"/>
<rect x="353.32" y="137.5" width="3.8" height="56.8" fill="#d98a80"/>
<rect x="359.72" y="136" width="3.8" height="58.3" fill="#f6c88c"/>
<rect x="366.02" y="128" width="3.8" height="66.3" fill="#8b98bd"/>
<line x1="355.22" y1="135.2" x2="355.22" y2="140" stroke="#bf1a32" stroke-width="0.8"/>
<circle cx="355.22" cy="135.2" r="1.8" stroke="#bf1a32" fill="#d32a40" stroke-width="1.05"/>
<circle cx="355.22" cy="137.6" r="1.8" stroke="#bf1a32" fill="#d32a40" stroke-width="1.05"/>
<circle cx="355.22" cy="140" r="1.8" stroke="#bf1a32" fill="#d32a40" stroke-width="1.05"/>
<line x1="361.62" y1="129.4" x2="361.62" y2="142.4" stroke="#eea12a" stroke-width="0.8"/>
<rect x="359.82" y="127.6" width="3.6" height="3.6" stroke="#eea12a" fill="#fde6c4" stroke-width="1.05"/>
<rect x="359.82" y="130.7" width="3.6" height="3.6" stroke="#eea12a" fill="#fde6c4" stroke-width="1.05"/>
<rect x="359.82" y="134" width="3.6" height="3.6" stroke="#eea12a" fill="#fde6c4" stroke-width="1.05"/>
<rect x="359.82" y="137.2" width="3.6" height="3.6" stroke="#eea12a" fill="#fde6c4" stroke-width="1.05"/>
<rect x="359.82" y="140.6" width="3.6" height="3.6" stroke="#eea12a" fill="#fde6c4" stroke-width="1.05"/>
<line x1="367.92" y1="120.8" x2="367.92" y2="140" stroke="#183f78" stroke-width="0.8"/>
<polygon points="367.92,107.36 365.87,111.26 369.97,111.26" stroke="#183f78" fill="#ffffff" stroke-width="1.05" stroke-linejoin="miter"/>
<polygon points="367.92,118.46 365.87,122.36 369.97,122.36" stroke="#183f78" fill="#5d7fb6" stroke-width="1.05" stroke-linejoin="miter"/>
<polygon points="367.92,122.16 365.87,126.06 369.97,126.06" stroke="#183f78" fill="#5d7fb6" stroke-width="1.05" stroke-linejoin="miter"/>
<polygon points="367.92,126.16 365.87,130.06 369.97,130.06" stroke="#183f78" fill="#5d7fb6" stroke-width="1.05" stroke-linejoin="miter"/>
<polygon points="367.92,129.96 365.87,133.86 369.97,133.86" stroke="#183f78" fill="#5d7fb6" stroke-width="1.05" stroke-linejoin="miter"/>
<polygon points="367.92,133.66 365.87,137.56 369.97,137.56" stroke="#183f78" fill="#5d7fb6" stroke-width="1.05" stroke-linejoin="miter"/>
<polygon points="367.92,137.66 365.87,141.56 369.97,141.56" stroke="#183f78" fill="#5d7fb6" stroke-width="1.05" stroke-linejoin="miter"/>
<circle cx="363.67" cy="100.8" r="0.85" stroke="none" fill="#3a3a3a" stroke-width="0"/>
<circle cx="366.77" cy="100.8" r="0.85" stroke="none" fill="#3a3a3a" stroke-width="0"/>
<rect x="376.68" y="138" width="3.8" height="56.3" fill="#d98a80"/>
<rect x="383.08" y="131" width="3.8" height="63.3" fill="#f6c88c"/>
<rect x="389.38" y="128" width="3.8" height="66.3" fill="#8b98bd"/>
<line x1="378.58" y1="135.2" x2="378.58" y2="141.4" stroke="#bf1a32" stroke-width="0.8"/>
<circle cx="378.58" cy="135.2" r="1.8" stroke="#bf1a32" fill="#d32a40" stroke-width="1.05"/>
<circle cx="378.58" cy="138.3" r="1.8" stroke="#bf1a32" fill="#d32a40" stroke-width="1.05"/>
<circle cx="378.58" cy="141.4" r="1.8" stroke="#bf1a32" fill="#d32a40" stroke-width="1.05"/>
<line x1="384.98" y1="123.2" x2="384.98" y2="139" stroke="#eea12a" stroke-width="0.8"/>
<rect x="383.18" y="121.4" width="3.6" height="3.6" stroke="#eea12a" fill="#fde6c4" stroke-width="1.05"/>
<rect x="383.18" y="125.2" width="3.6" height="3.6" stroke="#eea12a" fill="#fde6c4" stroke-width="1.05"/>
<rect x="383.18" y="129.2" width="3.6" height="3.6" stroke="#eea12a" fill="#fde6c4" stroke-width="1.05"/>
<rect x="383.18" y="133.2" width="3.6" height="3.6" stroke="#eea12a" fill="#fde6c4" stroke-width="1.05"/>
<rect x="383.18" y="137.2" width="3.6" height="3.6" stroke="#eea12a" fill="#fde6c4" stroke-width="1.05"/>
<line x1="391.28" y1="123.7" x2="391.28" y2="139" stroke="#183f78" stroke-width="0.8"/>
<polygon points="391.28,115.56 389.23,119.46 393.33,119.46" stroke="#183f78" fill="#ffffff" stroke-width="1.05" stroke-linejoin="miter"/>
<polygon points="391.28,121.36 389.23,125.26 393.33,125.26" stroke="#183f78" fill="#5d7fb6" stroke-width="1.05" stroke-linejoin="miter"/>
<polygon points="391.28,125.16 389.23,129.06 393.33,129.06" stroke="#183f78" fill="#5d7fb6" stroke-width="1.05" stroke-linejoin="miter"/>
<polygon points="391.28,128.96 389.23,132.86 393.33,132.86" stroke="#183f78" fill="#5d7fb6" stroke-width="1.05" stroke-linejoin="miter"/>
<polygon points="391.28,132.86 389.23,136.76 393.33,136.76" stroke="#183f78" fill="#5d7fb6" stroke-width="1.05" stroke-linejoin="miter"/>
<polygon points="391.28,136.66 389.23,140.56 393.33,140.56" stroke="#183f78" fill="#5d7fb6" stroke-width="1.05" stroke-linejoin="miter"/>
<circle cx="387.03" cy="111.6" r="0.85" stroke="none" fill="#3a3a3a" stroke-width="0"/>
<circle cx="390.13" cy="111.6" r="0.85" stroke="none" fill="#3a3a3a" stroke-width="0"/>
<rect x="400.04" y="138.5" width="3.8" height="55.8" fill="#d98a80"/>
<rect x="406.44" y="117" width="3.8" height="77.3" fill="#f6c88c"/>
<rect x="412.74" y="98" width="3.8" height="96.3" fill="#8b98bd"/>
<line x1="401.94" y1="135.4" x2="401.94" y2="142.2" stroke="#bf1a32" stroke-width="0.8"/>
<circle cx="401.94" cy="135.4" r="1.8" stroke="#bf1a32" fill="#d32a40" stroke-width="1.05"/>
<circle cx="401.94" cy="138.8" r="1.8" stroke="#bf1a32" fill="#d32a40" stroke-width="1.05"/>
<circle cx="401.94" cy="142.2" r="1.8" stroke="#bf1a32" fill="#d32a40" stroke-width="1.05"/>
<line x1="408.34" y1="109.4" x2="408.34" y2="124.9" stroke="#eea12a" stroke-width="0.8"/>
<rect x="406.54" y="107.6" width="3.6" height="3.6" stroke="#eea12a" fill="#fde6c4" stroke-width="1.05"/>
<rect x="406.54" y="115.7" width="3.6" height="3.6" stroke="#eea12a" fill="#fde6c4" stroke-width="1.05"/>
<rect x="406.54" y="119.2" width="3.6" height="3.6" stroke="#eea12a" fill="#fde6c4" stroke-width="1.05"/>
<rect x="406.54" y="123.1" width="3.6" height="3.6" stroke="#eea12a" fill="#fde6c4" stroke-width="1.05"/>
<line x1="414.64" y1="90.3" x2="414.64" y2="107" stroke="#183f78" stroke-width="0.8"/>
<polygon points="414.64,78.66 412.59,82.56 416.69,82.56" stroke="#183f78" fill="#ffffff" stroke-width="1.05" stroke-linejoin="miter"/>
<polygon points="414.64,87.96 412.59,91.86 416.69,91.86" stroke="#183f78" fill="#5d7fb6" stroke-width="1.05" stroke-linejoin="miter"/>
<polygon points="414.64,91.66 412.59,95.56 416.69,95.56" stroke="#183f78" fill="#5d7fb6" stroke-width="1.05" stroke-linejoin="miter"/>
<polygon points="414.64,95.46 412.59,99.36 416.69,99.36" stroke="#183f78" fill="#5d7fb6" stroke-width="1.05" stroke-linejoin="miter"/>
<polygon points="414.64,99.16 412.59,103.06 416.69,103.06" stroke="#183f78" fill="#5d7fb6" stroke-width="1.05" stroke-linejoin="miter"/>
<polygon points="414.64,104.66 412.59,108.56 416.69,108.56" stroke="#183f78" fill="#5d7fb6" stroke-width="1.05" stroke-linejoin="miter"/>
<polygon points="414.64,120.06 412.59,123.96 416.69,123.96" stroke="#183f78" fill="#ffffff" stroke-width="1.05" stroke-linejoin="miter"/>
<circle cx="408.04" cy="98.9" r="0.85" stroke="none" fill="#3a3a3a" stroke-width="0"/>
<circle cx="414.34" cy="73" r="0.85" stroke="none" fill="#3a3a3a" stroke-width="0"/>
<rect x="423.4" y="138" width="3.8" height="56.3" fill="#d98a80"/>
<rect x="429.8" y="114" width="3.8" height="80.3" fill="#f6c88c"/>
<rect x="436.1" y="100" width="3.8" height="94.3" fill="#8b98bd"/>
<line x1="425.3" y1="135.4" x2="425.3" y2="140.3" stroke="#bf1a32" stroke-width="0.8"/>
<circle cx="425.3" cy="135.4" r="1.8" stroke="#bf1a32" fill="#d32a40" stroke-width="1.05"/>
<circle cx="425.3" cy="137.8" r="1.8" stroke="#bf1a32" fill="#d32a40" stroke-width="1.05"/>
<circle cx="425.3" cy="140.3" r="1.8" stroke="#bf1a32" fill="#d32a40" stroke-width="1.05"/>
<line x1="431.7" y1="109.4" x2="431.7" y2="130" stroke="#eea12a" stroke-width="0.8"/>
<rect x="429.9" y="103.5" width="3.6" height="3.6" stroke="#eea12a" fill="#ffffff" stroke-width="1.05"/>
<rect x="429.9" y="107.6" width="3.6" height="3.6" stroke="#eea12a" fill="#fde6c4" stroke-width="1.05"/>
<rect x="429.9" y="114.2" width="3.6" height="3.6" stroke="#eea12a" fill="#fde6c4" stroke-width="1.05"/>
<rect x="429.9" y="117.2" width="3.6" height="3.6" stroke="#eea12a" fill="#fde6c4" stroke-width="1.05"/>
<rect x="429.9" y="120.7" width="3.6" height="3.6" stroke="#eea12a" fill="#fde6c4" stroke-width="1.05"/>
<rect x="429.9" y="124.2" width="3.6" height="3.6" stroke="#eea12a" fill="#fde6c4" stroke-width="1.05"/>
<rect x="429.9" y="128.2" width="3.6" height="3.6" stroke="#eea12a" fill="#fde6c4" stroke-width="1.05"/>
<line x1="438" y1="78.5" x2="438" y2="125.5" stroke="#183f78" stroke-width="0.8"/>
<polygon points="438,76.16 435.95,80.06 440.05,80.06" stroke="#183f78" fill="#5d7fb6" stroke-width="1.05" stroke-linejoin="miter"/>
<polygon points="438,79.66 435.95,83.56 440.05,83.56" stroke="#183f78" fill="#5d7fb6" stroke-width="1.05" stroke-linejoin="miter"/>
<polygon points="438,83.66 435.95,87.56 440.05,87.56" stroke="#183f78" fill="#5d7fb6" stroke-width="1.05" stroke-linejoin="miter"/>
<polygon points="438,87.66 435.95,91.56 440.05,91.56" stroke="#183f78" fill="#5d7fb6" stroke-width="1.05" stroke-linejoin="miter"/>
<polygon points="438,92.66 435.95,96.56 440.05,96.56" stroke="#183f78" fill="#5d7fb6" stroke-width="1.05" stroke-linejoin="miter"/>
<polygon points="438,98.46 435.95,102.36 440.05,102.36" stroke="#183f78" fill="#5d7fb6" stroke-width="1.05" stroke-linejoin="miter"/>
<polygon points="438,123.16 435.95,127.06 440.05,127.06" stroke="#183f78" fill="#5d7fb6" stroke-width="1.05" stroke-linejoin="miter"/>
<circle cx="431.4" cy="93.4" r="0.85" stroke="none" fill="#3a3a3a" stroke-width="0"/>
<circle cx="437.7" cy="71.1" r="0.85" stroke="none" fill="#3a3a3a" stroke-width="0"/>
<rect x="446.76" y="138" width="3.8" height="56.3" fill="#d98a80"/>
<rect x="453.16" y="114" width="3.8" height="80.3" fill="#f6c88c"/>
<rect x="459.46" y="92.6" width="3.8" height="101.7" fill="#8b98bd"/>
<line x1="448.66" y1="133.8" x2="448.66" y2="142" stroke="#bf1a32" stroke-width="0.8"/>
<circle cx="448.66" cy="133.8" r="1.8" stroke="#bf1a32" fill="#d32a40" stroke-width="1.05"/>
<circle cx="448.66" cy="136.5" r="1.8" stroke="#bf1a32" fill="#d32a40" stroke-width="1.05"/>
<circle cx="448.66" cy="139.3" r="1.8" stroke="#bf1a32" fill="#d32a40" stroke-width="1.05"/>
<circle cx="448.66" cy="142" r="1.8" stroke="#bf1a32" fill="#d32a40" stroke-width="1.05"/>
<line x1="455.06" y1="116.5" x2="455.06" y2="129" stroke="#eea12a" stroke-width="0.8"/>
<rect x="453.26" y="109.3" width="3.6" height="3.6" stroke="#eea12a" fill="#ffffff" stroke-width="1.05"/>
<rect x="453.26" y="114.7" width="3.6" height="3.6" stroke="#eea12a" fill="#fde6c4" stroke-width="1.05"/>
<rect x="453.26" y="117.7" width="3.6" height="3.6" stroke="#eea12a" fill="#fde6c4" stroke-width="1.05"/>
<rect x="453.26" y="120.7" width="3.6" height="3.6" stroke="#eea12a" fill="#fde6c4" stroke-width="1.05"/>
<rect x="453.26" y="124.2" width="3.6" height="3.6" stroke="#eea12a" fill="#fde6c4" stroke-width="1.05"/>
<rect x="453.26" y="127.2" width="3.6" height="3.6" stroke="#eea12a" fill="#fde6c4" stroke-width="1.05"/>
<line x1="461.36" y1="87.1" x2="461.36" y2="100.8" stroke="#183f78" stroke-width="0.8"/>
<polygon points="461.36,73.06 459.31,76.96 463.41,76.96" stroke="#183f78" fill="#ffffff" stroke-width="1.05" stroke-linejoin="miter"/>
<polygon points="461.36,78.66 459.31,82.56 463.41,82.56" stroke="#183f78" fill="#ffffff" stroke-width="1.05" stroke-linejoin="miter"/>
<polygon points="461.36,84.76 459.31,88.66 463.41,88.66" stroke="#183f78" fill="#5d7fb6" stroke-width="1.05" stroke-linejoin="miter"/>
<polygon points="461.36,87.66 459.31,91.56 463.41,91.56" stroke="#183f78" fill="#5d7fb6" stroke-width="1.05" stroke-linejoin="miter"/>
<polygon points="461.36,90.26 459.31,94.16 463.41,94.16" stroke="#183f78" fill="#5d7fb6" stroke-width="1.05" stroke-linejoin="miter"/>
<polygon points="461.36,98.46 459.31,102.36 463.41,102.36" stroke="#183f78" fill="#5d7fb6" stroke-width="1.05" stroke-linejoin="miter"/>
<circle cx="454.76" cy="100.1" r="0.85" stroke="none" fill="#3a3a3a" stroke-width="0"/>
<circle cx="461.06" cy="67.2" r="0.85" stroke="none" fill="#3a3a3a" stroke-width="0"/>
<rect x="470.12" y="138.3" width="3.8" height="56" fill="#d98a80"/>
<rect x="476.52" y="118" width="3.8" height="76.3" fill="#f6c88c"/>
<rect x="482.82" y="112" width="3.8" height="82.3" fill="#8b98bd"/>
<line x1="472.02" y1="135.9" x2="472.02" y2="140.7" stroke="#bf1a32" stroke-width="0.8"/>
<circle cx="472.02" cy="135.9" r="1.8" stroke="#bf1a32" fill="#d32a40" stroke-width="1.05"/>
<circle cx="472.02" cy="138.3" r="1.8" stroke="#bf1a32" fill="#d32a40" stroke-width="1.05"/>
<circle cx="472.02" cy="140.7" r="1.8" stroke="#bf1a32" fill="#d32a40" stroke-width="1.05"/>
<line x1="478.42" y1="116" x2="478.42" y2="129" stroke="#eea12a" stroke-width="0.8"/>
<rect x="476.62" y="96.3" width="3.6" height="3.6" stroke="#eea12a" fill="#ffffff" stroke-width="1.05"/>
<rect x="476.62" y="114.2" width="3.6" height="3.6" stroke="#eea12a" fill="#fde6c4" stroke-width="1.05"/>
<rect x="476.62" y="117.7" width="3.6" height="3.6" stroke="#eea12a" fill="#fde6c4" stroke-width="1.05"/>
<rect x="476.62" y="120.7" width="3.6" height="3.6" stroke="#eea12a" fill="#fde6c4" stroke-width="1.05"/>
<rect x="476.62" y="124.2" width="3.6" height="3.6" stroke="#eea12a" fill="#fde6c4" stroke-width="1.05"/>
<rect x="476.62" y="127.2" width="3.6" height="3.6" stroke="#eea12a" fill="#fde6c4" stroke-width="1.05"/>
<line x1="484.72" y1="97.4" x2="484.72" y2="131" stroke="#183f78" stroke-width="0.8"/>
<line x1="483.52" y1="97.4" x2="485.92" y2="97.4" stroke="#183f78" stroke-width="0.8"/>
<polygon points="484.72,68.96 482.67,72.86 486.77,72.86" stroke="#183f78" fill="#ffffff" stroke-width="1.05" stroke-linejoin="miter"/>
<polygon points="484.72,86.16 482.67,90.06 486.77,90.06" stroke="#183f78" fill="#ffffff" stroke-width="1.05" stroke-linejoin="miter"/>
<polygon points="484.72,103.66 482.67,107.56 486.77,107.56" stroke="#183f78" fill="#5d7fb6" stroke-width="1.05" stroke-linejoin="miter"/>
<polygon points="484.72,106.66 482.67,110.56 486.77,110.56" stroke="#183f78" fill="#5d7fb6" stroke-width="1.05" stroke-linejoin="miter"/>
<polygon points="484.72,116.16 482.67,120.06 486.77,120.06" stroke="#183f78" fill="#5d7fb6" stroke-width="1.05" stroke-linejoin="miter"/>
<polygon points="484.72,120.16 482.67,124.06 486.77,124.06" stroke="#183f78" fill="#5d7fb6" stroke-width="1.05" stroke-linejoin="miter"/>
<polygon points="484.72,133.56 482.67,137.46 486.77,137.46" stroke="#183f78" fill="#ffffff" stroke-width="1.05" stroke-linejoin="miter"/>
<circle cx="478.12" cy="89.1" r="0.85" stroke="none" fill="#3a3a3a" stroke-width="0"/>
<circle cx="484.42" cy="62.4" r="0.85" stroke="none" fill="#3a3a3a" stroke-width="0"/>
<rect x="493.48" y="138.7" width="3.8" height="55.6" fill="#d98a80"/>
<rect x="499.88" y="130" width="3.8" height="64.3" fill="#f6c88c"/>
<rect x="506.18" y="128.2" width="3.8" height="66.1" fill="#8b98bd"/>
<line x1="495.38" y1="136" x2="495.38" y2="141.4" stroke="#bf1a32" stroke-width="0.8"/>
<circle cx="495.38" cy="136" r="1.8" stroke="#bf1a32" fill="#d32a40" stroke-width="1.05"/>
<circle cx="495.38" cy="138.7" r="1.8" stroke="#bf1a32" fill="#d32a40" stroke-width="1.05"/>
<circle cx="495.38" cy="141.4" r="1.8" stroke="#bf1a32" fill="#d32a40" stroke-width="1.05"/>
<line x1="501.78" y1="120" x2="501.78" y2="142" stroke="#eea12a" stroke-width="0.8"/>
<rect x="499.98" y="118.2" width="3.6" height="3.6" stroke="#eea12a" fill="#fde6c4" stroke-width="1.05"/>
<rect x="499.98" y="122.7" width="3.6" height="3.6" stroke="#eea12a" fill="#fde6c4" stroke-width="1.05"/>
<rect x="499.98" y="127.2" width="3.6" height="3.6" stroke="#eea12a" fill="#fde6c4" stroke-width="1.05"/>
<rect x="499.98" y="131.7" width="3.6" height="3.6" stroke="#eea12a" fill="#fde6c4" stroke-width="1.05"/>
<rect x="499.98" y="136.2" width="3.6" height="3.6" stroke="#eea12a" fill="#fde6c4" stroke-width="1.05"/>
<rect x="499.98" y="140.2" width="3.6" height="3.6" stroke="#eea12a" fill="#fde6c4" stroke-width="1.05"/>
<line x1="508.08" y1="121.1" x2="508.08" y2="140" stroke="#183f78" stroke-width="0.8"/>
<line x1="506.88" y1="121.1" x2="509.28" y2="121.1" stroke="#183f78" stroke-width="0.8"/>
<polygon points="508.08,100.66 506.03,104.56 510.13,104.56" stroke="#183f78" fill="#ffffff" stroke-width="1.05" stroke-linejoin="miter"/>
<polygon points="508.08,110.56 506.03,114.46 510.13,114.46" stroke="#183f78" fill="#ffffff" stroke-width="1.05" stroke-linejoin="miter"/>
<polygon points="508.08,134.66 506.03,138.56 510.13,138.56" stroke="#183f78" fill="#5d7fb6" stroke-width="1.05" stroke-linejoin="miter"/>
<polygon points="508.08,137.16 506.03,141.06 510.13,141.06" stroke="#183f78" fill="#5d7fb6" stroke-width="1.05" stroke-linejoin="miter"/>
<polygon points="508.08,139.66 506.03,143.56 510.13,143.56" stroke="#183f78" fill="#5d7fb6" stroke-width="1.05" stroke-linejoin="miter"/>
<circle cx="503.83" cy="93.6" r="0.85" stroke="none" fill="#3a3a3a" stroke-width="0"/>
<circle cx="506.93" cy="93.6" r="0.85" stroke="none" fill="#3a3a3a" stroke-width="0"/>
<line x1="304.3" y1="37" x2="304.3" y2="194.8" stroke="#1e1e1e" stroke-width="1"/>
<line x1="303.8" y1="194.3" x2="512.6" y2="194.3" stroke="#1e1e1e" stroke-width="1"/>
<line x1="301.3" y1="194.3" x2="304.3" y2="194.3" stroke="#1e1e1e" stroke-width="0.9"/>
<text x="297.7" y="196.7" font-size="7.2" fill="#454545" color="#454545" text-anchor="end">0</text>
<line x1="301.3" y1="155.9" x2="304.3" y2="155.9" stroke="#1e1e1e" stroke-width="0.9"/>
<text x="297.7" y="158.3" font-size="7.2" fill="#454545" color="#454545" text-anchor="end">10</text>
<line x1="301.3" y1="117.5" x2="304.3" y2="117.5" stroke="#1e1e1e" stroke-width="0.9"/>
<text x="297.7" y="119.9" font-size="7.2" fill="#454545" color="#454545" text-anchor="end">20</text>
<line x1="301.3" y1="79.1" x2="304.3" y2="79.1" stroke="#1e1e1e" stroke-width="0.9"/>
<text x="297.7" y="81.5" font-size="7.2" fill="#454545" color="#454545" text-anchor="end">30</text>
<line x1="301.3" y1="40.7" x2="304.3" y2="40.7" stroke="#1e1e1e" stroke-width="0.9"/>
<text x="297.7" y="43.1" font-size="7.2" fill="#454545" color="#454545" text-anchor="end">40</text>
<line x1="302.7" y1="190.46" x2="304.3" y2="190.46" stroke="#1e1e1e" stroke-width="0.7"/>
<line x1="302.7" y1="186.62" x2="304.3" y2="186.62" stroke="#1e1e1e" stroke-width="0.7"/>
<line x1="302.7" y1="182.78" x2="304.3" y2="182.78" stroke="#1e1e1e" stroke-width="0.7"/>
<line x1="302.7" y1="178.94" x2="304.3" y2="178.94" stroke="#1e1e1e" stroke-width="0.7"/>
<line x1="302.7" y1="175.1" x2="304.3" y2="175.1" stroke="#1e1e1e" stroke-width="0.7"/>
<line x1="302.7" y1="171.26" x2="304.3" y2="171.26" stroke="#1e1e1e" stroke-width="0.7"/>
<line x1="302.7" y1="167.42" x2="304.3" y2="167.42" stroke="#1e1e1e" stroke-width="0.7"/>
<line x1="302.7" y1="163.58" x2="304.3" y2="163.58" stroke="#1e1e1e" stroke-width="0.7"/>
<line x1="302.7" y1="159.74" x2="304.3" y2="159.74" stroke="#1e1e1e" stroke-width="0.7"/>
<line x1="302.7" y1="152.06" x2="304.3" y2="152.06" stroke="#1e1e1e" stroke-width="0.7"/>
<line x1="302.7" y1="148.22" x2="304.3" y2="148.22" stroke="#1e1e1e" stroke-width="0.7"/>
<line x1="302.7" y1="144.38" x2="304.3" y2="144.38" stroke="#1e1e1e" stroke-width="0.7"/>
<line x1="302.7" y1="140.54" x2="304.3" y2="140.54" stroke="#1e1e1e" stroke-width="0.7"/>
<line x1="302.7" y1="136.7" x2="304.3" y2="136.7" stroke="#1e1e1e" stroke-width="0.7"/>
<line x1="302.7" y1="132.86" x2="304.3" y2="132.86" stroke="#1e1e1e" stroke-width="0.7"/>
<line x1="302.7" y1="129.02" x2="304.3" y2="129.02" stroke="#1e1e1e" stroke-width="0.7"/>
<line x1="302.7" y1="125.18" x2="304.3" y2="125.18" stroke="#1e1e1e" stroke-width="0.7"/>
<line x1="302.7" y1="121.34" x2="304.3" y2="121.34" stroke="#1e1e1e" stroke-width="0.7"/>
<line x1="302.7" y1="113.66" x2="304.3" y2="113.66" stroke="#1e1e1e" stroke-width="0.7"/>
<line x1="302.7" y1="109.82" x2="304.3" y2="109.82" stroke="#1e1e1e" stroke-width="0.7"/>
<line x1="302.7" y1="105.98" x2="304.3" y2="105.98" stroke="#1e1e1e" stroke-width="0.7"/>
<line x1="302.7" y1="102.14" x2="304.3" y2="102.14" stroke="#1e1e1e" stroke-width="0.7"/>
<line x1="302.7" y1="98.3" x2="304.3" y2="98.3" stroke="#1e1e1e" stroke-width="0.7"/>
<line x1="302.7" y1="94.46" x2="304.3" y2="94.46" stroke="#1e1e1e" stroke-width="0.7"/>
<line x1="302.7" y1="90.62" x2="304.3" y2="90.62" stroke="#1e1e1e" stroke-width="0.7"/>
<line x1="302.7" y1="86.78" x2="304.3" y2="86.78" stroke="#1e1e1e" stroke-width="0.7"/>
<line x1="302.7" y1="82.94" x2="304.3" y2="82.94" stroke="#1e1e1e" stroke-width="0.7"/>
<line x1="302.7" y1="75.26" x2="304.3" y2="75.26" stroke="#1e1e1e" stroke-width="0.7"/>
<line x1="302.7" y1="71.42" x2="304.3" y2="71.42" stroke="#1e1e1e" stroke-width="0.7"/>
<line x1="302.7" y1="67.58" x2="304.3" y2="67.58" stroke="#1e1e1e" stroke-width="0.7"/>
<line x1="302.7" y1="63.74" x2="304.3" y2="63.74" stroke="#1e1e1e" stroke-width="0.7"/>
<line x1="302.7" y1="59.9" x2="304.3" y2="59.9" stroke="#1e1e1e" stroke-width="0.7"/>
<line x1="302.7" y1="56.06" x2="304.3" y2="56.06" stroke="#1e1e1e" stroke-width="0.7"/>
<line x1="302.7" y1="52.22" x2="304.3" y2="52.22" stroke="#1e1e1e" stroke-width="0.7"/>
<line x1="302.7" y1="48.38" x2="304.3" y2="48.38" stroke="#1e1e1e" stroke-width="0.7"/>
<line x1="302.7" y1="44.54" x2="304.3" y2="44.54" stroke="#1e1e1e" stroke-width="0.7"/>
<line x1="314.9" y1="194.3" x2="314.9" y2="196.8" stroke="#1e1e1e" stroke-width="0.8"/>
<line x1="338.26" y1="194.3" x2="338.26" y2="196.8" stroke="#1e1e1e" stroke-width="0.8"/>
<line x1="361.62" y1="194.3" x2="361.62" y2="196.8" stroke="#1e1e1e" stroke-width="0.8"/>
<line x1="384.98" y1="194.3" x2="384.98" y2="196.8" stroke="#1e1e1e" stroke-width="0.8"/>
<line x1="408.34" y1="194.3" x2="408.34" y2="196.8" stroke="#1e1e1e" stroke-width="0.8"/>
<line x1="431.7" y1="194.3" x2="431.7" y2="196.8" stroke="#1e1e1e" stroke-width="0.8"/>
<line x1="455.06" y1="194.3" x2="455.06" y2="196.8" stroke="#1e1e1e" stroke-width="0.8"/>
<line x1="478.42" y1="194.3" x2="478.42" y2="196.8" stroke="#1e1e1e" stroke-width="0.8"/>
<line x1="501.78" y1="194.3" x2="501.78" y2="196.8" stroke="#1e1e1e" stroke-width="0.8"/>
<text x="285" y="115.5" font-size="8.2" fill="#454545" color="#454545" text-anchor="middle" textLength="46.7" lengthAdjust="spacingAndGlyphs" transform="rotate(-90 285 115.5)">Time (seconds)</text>
<text x="304.3" y="210.7" font-size="7.4" fill="#454545" color="#454545" text-anchor="end" textLength="11.5" lengthAdjust="spacingAndGlyphs">IL-6</text>
<line x1="312.9" y1="208.1" x2="316.9" y2="208.1" stroke="#555555" stroke-width="0.85"/>
<line x1="336.26" y1="208.1" x2="340.26" y2="208.1" stroke="#555555" stroke-width="0.85"/>
<line x1="338.26" y1="206.1" x2="338.26" y2="210.1" stroke="#555555" stroke-width="0.85"/>
<line x1="359.62" y1="208.1" x2="363.62" y2="208.1" stroke="#555555" stroke-width="0.85"/>
<line x1="361.62" y1="206.1" x2="361.62" y2="210.1" stroke="#555555" stroke-width="0.85"/>
<line x1="382.98" y1="208.1" x2="386.98" y2="208.1" stroke="#555555" stroke-width="0.85"/>
<line x1="384.98" y1="206.1" x2="384.98" y2="210.1" stroke="#555555" stroke-width="0.85"/>
<line x1="406.34" y1="208.1" x2="410.34" y2="208.1" stroke="#555555" stroke-width="0.85"/>
<line x1="408.34" y1="206.1" x2="408.34" y2="210.1" stroke="#555555" stroke-width="0.85"/>
<line x1="429.7" y1="208.1" x2="433.7" y2="208.1" stroke="#555555" stroke-width="0.85"/>
<line x1="431.7" y1="206.1" x2="431.7" y2="210.1" stroke="#555555" stroke-width="0.85"/>
<line x1="453.06" y1="208.1" x2="457.06" y2="208.1" stroke="#555555" stroke-width="0.85"/>
<line x1="455.06" y1="206.1" x2="455.06" y2="210.1" stroke="#555555" stroke-width="0.85"/>
<line x1="476.42" y1="208.1" x2="480.42" y2="208.1" stroke="#555555" stroke-width="0.85"/>
<line x1="478.42" y1="206.1" x2="478.42" y2="210.1" stroke="#555555" stroke-width="0.85"/>
<line x1="499.78" y1="208.1" x2="503.78" y2="208.1" stroke="#555555" stroke-width="0.85"/>
<line x1="501.78" y1="206.1" x2="501.78" y2="210.1" stroke="#555555" stroke-width="0.85"/>
<text x="304.3" y="222.5" font-size="7.4" fill="#454545" color="#454545" text-anchor="end" textLength="14" lengthAdjust="spacingAndGlyphs">NAC</text>
<line x1="312.9" y1="219.9" x2="316.9" y2="219.9" stroke="#555555" stroke-width="0.85"/>
<line x1="336.26" y1="219.9" x2="340.26" y2="219.9" stroke="#555555" stroke-width="0.85"/>
<line x1="359.62" y1="219.9" x2="363.62" y2="219.9" stroke="#555555" stroke-width="0.85"/>
<line x1="361.62" y1="217.9" x2="361.62" y2="221.9" stroke="#555555" stroke-width="0.85"/>
<line x1="382.98" y1="219.9" x2="386.98" y2="219.9" stroke="#555555" stroke-width="0.85"/>
<line x1="406.34" y1="219.9" x2="410.34" y2="219.9" stroke="#555555" stroke-width="0.85"/>
<line x1="429.7" y1="219.9" x2="433.7" y2="219.9" stroke="#555555" stroke-width="0.85"/>
<line x1="453.06" y1="219.9" x2="457.06" y2="219.9" stroke="#555555" stroke-width="0.85"/>
<line x1="476.42" y1="219.9" x2="480.42" y2="219.9" stroke="#555555" stroke-width="0.85"/>
<line x1="499.78" y1="219.9" x2="503.78" y2="219.9" stroke="#555555" stroke-width="0.85"/>
<text x="304.3" y="234.8" font-size="7.4" fill="#454545" color="#454545" text-anchor="end" textLength="37.4" lengthAdjust="spacingAndGlyphs">Mito-Tempo</text>
<line x1="312.9" y1="232.2" x2="316.9" y2="232.2" stroke="#555555" stroke-width="0.85"/>
<line x1="336.26" y1="232.2" x2="340.26" y2="232.2" stroke="#555555" stroke-width="0.85"/>
<line x1="359.62" y1="232.2" x2="363.62" y2="232.2" stroke="#555555" stroke-width="0.85"/>
<line x1="382.98" y1="232.2" x2="386.98" y2="232.2" stroke="#555555" stroke-width="0.85"/>
<line x1="384.98" y1="230.2" x2="384.98" y2="234.2" stroke="#555555" stroke-width="0.85"/>
<line x1="406.34" y1="232.2" x2="410.34" y2="232.2" stroke="#555555" stroke-width="0.85"/>
<line x1="429.7" y1="232.2" x2="433.7" y2="232.2" stroke="#555555" stroke-width="0.85"/>
<line x1="453.06" y1="232.2" x2="457.06" y2="232.2" stroke="#555555" stroke-width="0.85"/>
<line x1="476.42" y1="232.2" x2="480.42" y2="232.2" stroke="#555555" stroke-width="0.85"/>
<line x1="499.78" y1="232.2" x2="503.78" y2="232.2" stroke="#555555" stroke-width="0.85"/>
<text x="304.3" y="246.8" font-size="7.4" fill="#454545" color="#454545" text-anchor="end" textLength="28.5" lengthAdjust="spacingAndGlyphs">L-NMMA</text>
<line x1="312.9" y1="244.2" x2="316.9" y2="244.2" stroke="#555555" stroke-width="0.85"/>
<line x1="336.26" y1="244.2" x2="340.26" y2="244.2" stroke="#555555" stroke-width="0.85"/>
<line x1="359.62" y1="244.2" x2="363.62" y2="244.2" stroke="#555555" stroke-width="0.85"/>
<line x1="382.98" y1="244.2" x2="386.98" y2="244.2" stroke="#555555" stroke-width="0.85"/>
<line x1="406.34" y1="244.2" x2="410.34" y2="244.2" stroke="#555555" stroke-width="0.85"/>
<line x1="408.34" y1="242.2" x2="408.34" y2="246.2" stroke="#555555" stroke-width="0.85"/>
<line x1="429.7" y1="244.2" x2="433.7" y2="244.2" stroke="#555555" stroke-width="0.85"/>
<line x1="453.06" y1="244.2" x2="457.06" y2="244.2" stroke="#555555" stroke-width="0.85"/>
<line x1="476.42" y1="244.2" x2="480.42" y2="244.2" stroke="#555555" stroke-width="0.85"/>
<line x1="499.78" y1="244.2" x2="503.78" y2="244.2" stroke="#555555" stroke-width="0.85"/>
<text x="304.3" y="258.8" font-size="7.4" fill="#454545" color="#454545" text-anchor="end" textLength="25.5" lengthAdjust="spacingAndGlyphs">4-ABAH</text>
<line x1="312.9" y1="256.2" x2="316.9" y2="256.2" stroke="#555555" stroke-width="0.85"/>
<line x1="336.26" y1="256.2" x2="340.26" y2="256.2" stroke="#555555" stroke-width="0.85"/>
<line x1="359.62" y1="256.2" x2="363.62" y2="256.2" stroke="#555555" stroke-width="0.85"/>
<line x1="382.98" y1="256.2" x2="386.98" y2="256.2" stroke="#555555" stroke-width="0.85"/>
<line x1="406.34" y1="256.2" x2="410.34" y2="256.2" stroke="#555555" stroke-width="0.85"/>
<line x1="429.7" y1="256.2" x2="433.7" y2="256.2" stroke="#555555" stroke-width="0.85"/>
<line x1="431.7" y1="254.2" x2="431.7" y2="258.2" stroke="#555555" stroke-width="0.85"/>
<line x1="453.06" y1="256.2" x2="457.06" y2="256.2" stroke="#555555" stroke-width="0.85"/>
<line x1="476.42" y1="256.2" x2="480.42" y2="256.2" stroke="#555555" stroke-width="0.85"/>
<line x1="499.78" y1="256.2" x2="503.78" y2="256.2" stroke="#555555" stroke-width="0.85"/>
<text x="304.3" y="271" font-size="7.4" fill="#454545" color="#454545" text-anchor="end" textLength="28.1" lengthAdjust="spacingAndGlyphs">Apocynin</text>
<line x1="312.9" y1="268.4" x2="316.9" y2="268.4" stroke="#555555" stroke-width="0.85"/>
<line x1="336.26" y1="268.4" x2="340.26" y2="268.4" stroke="#555555" stroke-width="0.85"/>
<line x1="359.62" y1="268.4" x2="363.62" y2="268.4" stroke="#555555" stroke-width="0.85"/>
<line x1="382.98" y1="268.4" x2="386.98" y2="268.4" stroke="#555555" stroke-width="0.85"/>
<line x1="406.34" y1="268.4" x2="410.34" y2="268.4" stroke="#555555" stroke-width="0.85"/>
<line x1="429.7" y1="268.4" x2="433.7" y2="268.4" stroke="#555555" stroke-width="0.85"/>
<line x1="453.06" y1="268.4" x2="457.06" y2="268.4" stroke="#555555" stroke-width="0.85"/>
<line x1="455.06" y1="266.4" x2="455.06" y2="270.4" stroke="#555555" stroke-width="0.85"/>
<line x1="476.42" y1="268.4" x2="480.42" y2="268.4" stroke="#555555" stroke-width="0.85"/>
<line x1="499.78" y1="268.4" x2="503.78" y2="268.4" stroke="#555555" stroke-width="0.85"/>
<text x="304.3" y="282.7" font-size="7.4" fill="#454545" color="#454545" text-anchor="end" textLength="13" lengthAdjust="spacingAndGlyphs">TXA</text>
<line x1="312.9" y1="280.1" x2="316.9" y2="280.1" stroke="#555555" stroke-width="0.85"/>
<line x1="336.26" y1="280.1" x2="340.26" y2="280.1" stroke="#555555" stroke-width="0.85"/>
<line x1="359.62" y1="280.1" x2="363.62" y2="280.1" stroke="#555555" stroke-width="0.85"/>
<line x1="382.98" y1="280.1" x2="386.98" y2="280.1" stroke="#555555" stroke-width="0.85"/>
<line x1="406.34" y1="280.1" x2="410.34" y2="280.1" stroke="#555555" stroke-width="0.85"/>
<line x1="429.7" y1="280.1" x2="433.7" y2="280.1" stroke="#555555" stroke-width="0.85"/>
<line x1="453.06" y1="280.1" x2="457.06" y2="280.1" stroke="#555555" stroke-width="0.85"/>
<line x1="476.42" y1="280.1" x2="480.42" y2="280.1" stroke="#555555" stroke-width="0.85"/>
<line x1="478.42" y1="278.1" x2="478.42" y2="282.1" stroke="#555555" stroke-width="0.85"/>
<line x1="499.78" y1="280.1" x2="503.78" y2="280.1" stroke="#555555" stroke-width="0.85"/>
<text x="304.3" y="294.8" font-size="7.4" fill="#454545" color="#454545" text-anchor="end" textLength="28.2" lengthAdjust="spacingAndGlyphs">AQB-565</text>
<line x1="312.9" y1="292.2" x2="316.9" y2="292.2" stroke="#555555" stroke-width="0.85"/>
<line x1="336.26" y1="292.2" x2="340.26" y2="292.2" stroke="#555555" stroke-width="0.85"/>
<line x1="359.62" y1="292.2" x2="363.62" y2="292.2" stroke="#555555" stroke-width="0.85"/>
<line x1="382.98" y1="292.2" x2="386.98" y2="292.2" stroke="#555555" stroke-width="0.85"/>
<line x1="406.34" y1="292.2" x2="410.34" y2="292.2" stroke="#555555" stroke-width="0.85"/>
<line x1="429.7" y1="292.2" x2="433.7" y2="292.2" stroke="#555555" stroke-width="0.85"/>
<line x1="453.06" y1="292.2" x2="457.06" y2="292.2" stroke="#555555" stroke-width="0.85"/>
<line x1="476.42" y1="292.2" x2="480.42" y2="292.2" stroke="#555555" stroke-width="0.85"/>
<line x1="499.78" y1="292.2" x2="503.78" y2="292.2" stroke="#555555" stroke-width="0.85"/>
<line x1="501.78" y1="290.2" x2="501.78" y2="294.2" stroke="#555555" stroke-width="0.85"/>
<circle cx="203" cy="309.4" r="1.6" stroke="#bf1a32" fill="none" stroke-width="0.9"/>
<text x="208.2" y="312" font-size="7.3" fill="#454545" color="#454545" textLength="33.2" lengthAdjust="spacingAndGlyphs">30 minutes</text>
<rect x="250.85" y="307.75" width="3.3" height="3.3" stroke="#eea12a" fill="none" stroke-width="0.9"/>
<text x="257.4" y="312" font-size="7.3" fill="#454545" color="#454545" textLength="22.4" lengthAdjust="spacingAndGlyphs">3 hours</text>
<polygon points="291,307.55 289.2,310.97 292.8,310.97" stroke="#183f78" fill="none" stroke-width="0.9" stroke-linejoin="miter"/>
<text x="295.6" y="312" font-size="7.3" fill="#454545" color="#454545" textLength="22.4" lengthAdjust="spacingAndGlyphs">4 hours</text>
<text x="7.6" y="346.3" font-size="12" fill="#111111" color="#111111" font-weight="bold" textLength="7.6" lengthAdjust="spacingAndGlyphs">B</text>
<text x="260" y="342.3" font-size="10.2" fill="#454545" color="#454545" text-anchor="middle" textLength="128" lengthAdjust="spacingAndGlyphs">Rotational Thromboelastometry</text>
<line x1="48.4" y1="379.3" x2="214.5" y2="379.3" stroke="#5a9e55" stroke-width="0.9" stroke-dasharray="1 1.2"/>
<line x1="48.4" y1="414.5" x2="214.5" y2="414.5" stroke="#5a9e55" stroke-width="0.9" stroke-dasharray="1 1.2"/>
<polyline points="47.6,396.9 47.6,396.78 47.6,396.54 47.6,396.22 47.6,395.85 47.72,395.44 48.07,395.02 48.45,394.57 48.86,394.12 49.31,393.68 49.79,393.23 50.3,392.8 50.84,392.38 51.41,391.97 52,391.58 52.62,391.2 53.26,390.84 53.93,390.5 54.62,390.17 55.34,389.86 56.07,389.56 56.84,389.28 57.62,389.01 58.42,388.75 59.25,388.51 60.1,388.28 60.96,388.06 61.85,387.86 62.76,387.66 63.69,387.47 64.63,387.3 65.6,387.13 66.59,386.97 67.59,386.81 68.61,386.67 69.65,386.53 70.71,386.4 71.79,386.27 72.88,386.15 73.99,386.04 75.12,385.93 76.26,385.82 77.43,385.72 78.6,385.63 79.8,385.54 81.01,385.45 82.24,385.37 83.48,385.29 84.74,385.21 86.02,385.14 87.31,385.06 88.62,385 89.94,384.93 91.28,384.87 92.63,384.81 94,384.75 95.39,384.69 96.78,384.64 98.2,384.59 99.63,384.54 101.07,384.49 102.53,384.44 104,384.4 105.48,384.35 106.98,384.31 108.5,384.27 110.03,384.23 111.57,384.19 113.12,384.15 114.69,384.12 116.28,384.08 117.87,384.05 119.48,384.02 121.11,383.99 122.75,383.96 124.4,383.93 126.06,383.9 127.74,383.87 129.43,383.84 131.13,383.82 132.85,383.79 134.58,383.77 136.32,383.74 138.08,383.72 139.84,383.7 141.62,383.67 143.42,383.65 145.22,383.63 147.04,383.61 148.87,383.59 150.71,383.57 152.57,383.55 154.44,383.53 156.32,383.52 158.21,383.5 160.11,383.48 162.03,383.46 163.96,383.45 165.9,383.43 167.85,383.42 169.81,383.4 171.79,383.39 173.78,383.37 175.78,383.36 177.79,383.35 179.81,383.33 181.84,383.32 183.89,383.31 185.95,383.29 188.02,383.28 190.1,383.27 192.19,383.26 194.29,383.25 196.4,383.23 198.53,383.22 200.67,383.21 202.81,383.2 204.97,383.19 207.14,383.18 209.32,383.17 211.51,383.16" fill="none" stroke="#55b255" stroke-width="1.3" stroke-linejoin="round"/>
<polyline points="47.6,396.9 47.6,397.02 47.6,397.27 47.6,397.59 47.6,397.96 47.72,398.37 48.07,398.8 48.45,399.24 48.86,399.69 49.31,400.15 49.79,400.59 50.3,401.03 50.84,401.45 51.41,401.86 52,402.26 52.62,402.64 53.26,403 53.93,403.35 54.62,403.68 55.34,403.99 56.07,404.29 56.84,404.58 57.62,404.85 58.42,405.1 59.25,405.35 60.1,405.58 60.96,405.8 61.85,406.01 62.76,406.2 63.69,406.39 64.63,406.57 65.6,406.74 66.59,406.9 67.59,407.06 68.61,407.2 69.65,407.34 70.71,407.47 71.79,407.6 72.88,407.72 73.99,407.84 75.12,407.95 76.26,408.05 77.43,408.15 78.6,408.25 79.8,408.34 81.01,408.43 82.24,408.51 83.48,408.59 84.74,408.67 86.02,408.75 87.31,408.82 88.62,408.89 89.94,408.95 91.28,409.02 92.63,409.08 94,409.14 95.39,409.19 96.78,409.25 98.2,409.3 99.63,409.35 101.07,409.4 102.53,409.45 104,409.49 105.48,409.54 106.98,409.58 108.5,409.62 110.03,409.66 111.57,409.7 113.12,409.73 114.69,409.77 116.28,409.8 117.87,409.84 119.48,409.87 121.11,409.9 122.75,409.93 124.4,409.96 126.06,409.99 127.74,410.02 129.43,410.05 131.13,410.07 132.85,410.1 134.58,410.12 136.32,410.15 138.08,410.17 139.84,410.2 141.62,410.22 143.42,410.24 145.22,410.26 147.04,410.28 148.87,410.3 150.71,410.32 152.57,410.34 154.44,410.36 156.32,410.38 158.21,410.39 160.11,410.41 162.03,410.43 163.96,410.44 165.9,410.46 167.85,410.48 169.81,410.49 171.79,410.51 173.78,410.52 175.78,410.53 177.79,410.55 179.81,410.56 181.84,410.58 183.89,410.59 185.95,410.6 188.02,410.61 190.1,410.63 192.19,410.64 194.29,410.65 196.4,410.66 198.53,410.67 200.67,410.68 202.81,410.69 204.97,410.7 207.14,410.71 209.32,410.72 211.51,410.73" fill="none" stroke="#55b255" stroke-width="1.3" stroke-linejoin="round"/>
<polyline points="47.6,396.9 47.6,396.78 47.6,396.54 47.6,396.23 47.6,395.87 47.72,395.47 48.07,395.05 48.45,394.62 48.86,394.18 49.31,393.74 49.79,393.3 50.3,392.87 50.84,392.46 51.41,392.05 52,391.67 52.62,391.29 53.26,390.94 53.93,390.59 54.62,390.27 55.34,389.96 56.07,389.66 56.84,389.38 57.62,389.12 58.42,388.86 59.25,388.62 60.1,388.39 60.96,388.18 61.85,387.97 62.76,387.77 63.69,387.59 64.63,387.41 65.6,387.24 66.59,387.08 67.59,386.93 68.61,386.78 69.65,386.65 70.71,386.51 71.79,386.39 72.88,386.27 73.99,386.15 75.12,386.04 76.26,385.94 77.43,385.84 78.6,385.74 79.8,385.65 81.01,385.57 82.24,385.48 83.48,385.4 84.74,385.32 86.02,385.25 87.31,385.18 88.62,385.11 89.94,385.04 91.28,384.98 92.63,384.92 94,384.86 95.39,384.81 96.78,384.75 98.2,384.7 99.63,384.65 101.07,384.6 102.53,384.55 104,384.51 105.48,384.46 106.98,384.42 108.5,384.38 110.03,384.34 111.57,384.3 113.12,384.27 114.69,384.23 116.28,384.19 117.87,384.16 119.48,384.13 121.11,384.1 122.75,384.07 124.4,384.04 126.06,384.01 127.74,383.98 129.43,383.95 131.13,383.93 132.85,383.9 134.58,383.88 136.32,383.85 138.08,383.83 139.84,383.8 141.62,383.78 143.42,383.76 145.22,383.74 147.04,383.72 148.87,383.7 150.71,383.68 152.57,383.66 154.44,383.64 156.32,383.62 158.21,383.61 160.11,383.59 162.03,383.57 163.96,383.56 165.9,383.54 167.85,383.52 169.81,383.51 171.79,383.49 173.78,383.48 175.78,383.47 177.79,383.45 179.81,383.44 181.84,383.43 183.89,383.41 185.95,383.4 188.02,383.39 190.1,383.38 192.19,383.36 194.29,383.35 196.4,383.34 198.53,383.33 200.67,383.32 202.81,383.31 204.97,383.3 207.14,383.29 209.32,383.28 211.51,383.27" fill="none" stroke="#2e7565" stroke-width="1.2" stroke-linejoin="round"/>
<polyline points="47.6,396.9 47.6,397.02 47.6,397.26 47.6,397.57 47.6,397.94 47.72,398.34 48.07,398.76 48.45,399.2 48.86,399.64 49.31,400.09 49.79,400.52 50.3,400.95 50.84,401.37 51.41,401.78 52,402.17 52.62,402.55 53.26,402.91 53.93,403.25 54.62,403.58 55.34,403.89 56.07,404.19 56.84,404.47 57.62,404.74 58.42,404.99 59.25,405.24 60.1,405.47 60.96,405.69 61.85,405.89 62.76,406.09 63.69,406.28 64.63,406.46 65.6,406.63 66.59,406.79 67.59,406.94 68.61,407.09 69.65,407.23 70.71,407.36 71.79,407.48 72.88,407.61 73.99,407.72 75.12,407.83 76.26,407.94 77.43,408.04 78.6,408.13 79.8,408.23 81.01,408.31 82.24,408.4 83.48,408.48 84.74,408.56 86.02,408.63 87.31,408.7 88.62,408.77 89.94,408.84 91.28,408.9 92.63,408.96 94,409.02 95.39,409.08 96.78,409.13 98.2,409.19 99.63,409.24 101.07,409.29 102.53,409.33 104,409.38 105.48,409.42 106.98,409.47 108.5,409.51 110.03,409.55 111.57,409.59 113.12,409.62 114.69,409.66 116.28,409.69 117.87,409.73 119.48,409.76 121.11,409.79 122.75,409.82 124.4,409.85 126.06,409.88 127.74,409.91 129.43,409.94 131.13,409.96 132.85,409.99 134.58,410.02 136.32,410.04 138.08,410.06 139.84,410.09 141.62,410.11 143.42,410.13 145.22,410.15 147.04,410.17 148.87,410.19 150.71,410.21 152.57,410.23 154.44,410.25 156.32,410.27 158.21,410.29 160.11,410.3 162.03,410.32 163.96,410.34 165.9,410.35 167.85,410.37 169.81,410.38 171.79,410.4 173.78,410.41 175.78,410.43 177.79,410.44 179.81,410.46 181.84,410.47 183.89,410.48 185.95,410.49 188.02,410.51 190.1,410.52 192.19,410.53 194.29,410.54 196.4,410.55 198.53,410.56 200.67,410.58 202.81,410.59 204.97,410.6 207.14,410.61 209.32,410.62 211.51,410.63" fill="none" stroke="#2e7565" stroke-width="1.2" stroke-linejoin="round"/>
<polyline points="47.6,396.9 47.6,396.81 47.6,396.64 47.6,396.41 47.6,396.14 47.6,395.84 47.71,395.52 47.99,395.17 48.3,394.82 48.63,394.47 48.99,394.11 49.36,393.75 49.76,393.39 50.18,393.04 50.62,392.7 51.08,392.36 51.55,392.04 52.05,391.72 52.56,391.42 53.09,391.12 53.63,390.84 54.2,390.56 54.77,390.3 55.37,390.05 55.98,389.8 56.61,389.57 57.25,389.35 57.91,389.13 58.58,388.92 59.26,388.73 59.96,388.54 60.68,388.36 61.41,388.18 62.15,388.02 62.9,387.86 63.67,387.7 64.46,387.56 65.25,387.42 66.06,387.28 66.88,387.15 67.72,387.03 68.56,386.91 69.42,386.79 70.29,386.68 71.18,386.57 72.07,386.47 72.98,386.37 73.9,386.28 74.83,386.19 75.78,386.1 76.73,386.01 77.7,385.93 78.68,385.85 79.67,385.78 80.67,385.7 81.68,385.63 82.7,385.57 83.74,385.5 84.78,385.44 85.84,385.37 86.91,385.31 87.98,385.26 89.07,385.2 90.17,385.15 91.28,385.09 92.4,385.04 93.53,384.99 94.67,384.95 95.82,384.9 96.98,384.86 98.15,384.81 99.33,384.77 100.52,384.73 101.72,384.69 102.94,384.65 104.16,384.61 105.39,384.58 106.63,384.54 107.88,384.51 109.14,384.47 110.41,384.44 111.69,384.41 112.97,384.38 114.27,384.35 115.58,384.32 116.9,384.29 118.22,384.26 119.56,384.24 120.9,384.21 122.26,384.18 123.62,384.16 124.99,384.14 126.37,384.11 127.76,384.09 129.16,384.07 130.57,384.04 131.99,384.02 133.41,384 134.85,383.98 136.29,383.96 137.74,383.94 139.2,383.92 140.67,383.9 142.15,383.88 143.64,383.87 145.13,383.85 146.64,383.83 148.15,383.81 149.67,383.8 151.2,383.78 152.74,383.77 154.29,383.75 155.84,383.74 157.41,383.72 158.98,383.71 160.56,383.69 162.15,383.68 163.74,383.66 165.35,383.65 166.96,383.64 168.58,383.63" fill="none" stroke="#1c2c48" stroke-width="1.15" stroke-linejoin="round"/>
<polyline points="47.6,396.9 47.6,396.99 47.6,397.16 47.6,397.39 47.6,397.66 47.6,397.97 47.71,398.29 47.99,398.64 48.3,398.99 48.63,399.35 48.99,399.71 49.36,400.07 49.76,400.43 50.18,400.79 50.62,401.13 51.08,401.47 51.55,401.8 52.05,402.11 52.56,402.42 53.09,402.72 53.63,403.01 54.2,403.28 54.77,403.55 55.37,403.8 55.98,404.05 56.61,404.28 57.25,404.51 57.91,404.72 58.58,404.93 59.26,405.13 59.96,405.32 60.68,405.5 61.41,405.68 62.15,405.85 62.9,406.01 63.67,406.16 64.46,406.31 65.25,406.45 66.06,406.59 66.88,406.72 67.72,406.84 68.56,406.96 69.42,407.08 70.29,407.19 71.18,407.3 72.07,407.4 72.98,407.5 73.9,407.6 74.83,407.69 75.78,407.78 76.73,407.86 77.7,407.94 78.68,408.02 79.67,408.1 80.67,408.17 81.68,408.25 82.7,408.31 83.74,408.38 84.78,408.44 85.84,408.51 86.91,408.57 87.98,408.63 89.07,408.68 90.17,408.74 91.28,408.79 92.4,408.84 93.53,408.89 94.67,408.94 95.82,408.98 96.98,409.03 98.15,409.07 99.33,409.11 100.52,409.16 101.72,409.2 102.94,409.23 104.16,409.27 105.39,409.31 106.63,409.34 107.88,409.38 109.14,409.41 110.41,409.45 111.69,409.48 112.97,409.51 114.27,409.54 115.58,409.57 116.9,409.6 118.22,409.62 119.56,409.65 120.9,409.68 122.26,409.7 123.62,409.73 124.99,409.75 126.37,409.78 127.76,409.8 129.16,409.82 130.57,409.85 131.99,409.87 133.41,409.89 134.85,409.91 136.29,409.93 137.74,409.95 139.2,409.97 140.67,409.99 142.15,410.01 143.64,410.02 145.13,410.04 146.64,410.06 148.15,410.08 149.67,410.09 151.2,410.11 152.74,410.13 154.29,410.14 155.84,410.16 157.41,410.17 158.98,410.19 160.56,410.2 162.15,410.21 163.74,410.23 165.35,410.24 166.96,410.25 168.58,410.27" fill="none" stroke="#1c2c48" stroke-width="1.15" stroke-linejoin="round"/>
<line x1="47.6" y1="356.9" x2="47.6" y2="441.6" stroke="#1e1e1e" stroke-width="1"/>
<line x1="47.1" y1="441.1" x2="214.8" y2="441.1" stroke="#1e1e1e" stroke-width="1"/>
<line x1="44.4" y1="388.05" x2="47.6" y2="388.05" stroke="#1e1e1e" stroke-width="0.9"/>
<text x="41.3" y="390.35" font-size="6.8" fill="#454545" color="#454545" text-anchor="end">20</text>
<line x1="44.4" y1="405.75" x2="47.6" y2="405.75" stroke="#1e1e1e" stroke-width="0.9"/>
<text x="41.3" y="408.05" font-size="6.8" fill="#454545" color="#454545" text-anchor="end">20</text>
<line x1="44.4" y1="379.2" x2="47.6" y2="379.2" stroke="#1e1e1e" stroke-width="0.9"/>
<text x="41.3" y="381.5" font-size="6.8" fill="#454545" color="#454545" text-anchor="end">40</text>
<line x1="44.4" y1="414.6" x2="47.6" y2="414.6" stroke="#1e1e1e" stroke-width="0.9"/>
<text x="41.3" y="416.9" font-size="6.8" fill="#454545" color="#454545" text-anchor="end">40</text>
<line x1="44.4" y1="370.35" x2="47.6" y2="370.35" stroke="#1e1e1e" stroke-width="0.9"/>
<text x="41.3" y="372.65" font-size="6.8" fill="#454545" color="#454545" text-anchor="end">60</text>
<line x1="44.4" y1="423.45" x2="47.6" y2="423.45" stroke="#1e1e1e" stroke-width="0.9"/>
<text x="41.3" y="425.75" font-size="6.8" fill="#454545" color="#454545" text-anchor="end">60</text>
<line x1="74.4" y1="441.1" x2="74.4" y2="444.4" stroke="#1e1e1e" stroke-width="0.9"/>
<text x="74.4" y="453.7" font-size="6.8" fill="#454545" color="#454545" text-anchor="middle">10</text>
<line x1="102.1" y1="441.1" x2="102.1" y2="444.4" stroke="#1e1e1e" stroke-width="0.9"/>
<text x="102.1" y="453.7" font-size="6.8" fill="#454545" color="#454545" text-anchor="middle">20</text>
<line x1="129.8" y1="441.1" x2="129.8" y2="444.4" stroke="#1e1e1e" stroke-width="0.9"/>
<text x="129.8" y="453.7" font-size="6.8" fill="#454545" color="#454545" text-anchor="middle">30</text>
<line x1="157.5" y1="441.1" x2="157.5" y2="444.4" stroke="#1e1e1e" stroke-width="0.9"/>
<text x="157.5" y="453.7" font-size="6.8" fill="#454545" color="#454545" text-anchor="middle">40</text>
<line x1="185.2" y1="441.1" x2="185.2" y2="444.4" stroke="#1e1e1e" stroke-width="0.9"/>
<text x="185.2" y="453.7" font-size="6.8" fill="#454545" color="#454545" text-anchor="middle">50</text>
<text x="27.7" y="399" font-size="8.8" fill="#454545" color="#454545" text-anchor="middle" textLength="11.8" lengthAdjust="spacingAndGlyphs" transform="rotate(-90 27.7 399)">mm</text>
<text x="131" y="466.4" font-size="8.6" fill="#454545" color="#454545" text-anchor="middle" textLength="25.5" lengthAdjust="spacingAndGlyphs">Minutes</text>
<text x="50.2" y="429.9" font-size="6.6" fill="#454545" color="#454545" textLength="81.3" lengthAdjust="spacingAndGlyphs">TEM’ (value × 0.25 [1/min])</text>
<text x="50.2" y="438.2" font-size="6.6" fill="#454545" color="#454545" textLength="81.3" lengthAdjust="spacingAndGlyphs">TEM” (value × 1.0 [1/min²])</text>
<text x="130.8" y="352" font-size="7" fill="#454545" color="#454545" text-anchor="middle" textLength="22.6" lengthAdjust="spacingAndGlyphs">Control</text>
<line x1="48.4" y1="499.3" x2="214.5" y2="499.3" stroke="#5a9e55" stroke-width="0.9" stroke-dasharray="1 1.2"/>
<line x1="48.4" y1="534.5" x2="214.5" y2="534.5" stroke="#5a9e55" stroke-width="0.9" stroke-dasharray="1 1.2"/>
<polyline points="47.6,516.9 47.6,516.72 47.6,516.37 47.6,515.92 47.6,515.41 47.72,514.86 48.07,514.3 48.45,513.74 48.86,513.18 49.31,512.64 49.79,512.12 50.3,511.62 50.84,511.16 51.41,510.71 52,510.3 52.62,509.91 53.26,509.54 53.93,509.2 54.62,508.87 55.34,508.57 56.07,508.29 56.84,508.03 57.62,507.79 58.42,507.56 59.25,507.34 60.1,507.14 60.96,506.95 61.85,506.77 62.76,506.61 63.69,506.45 64.63,506.3 65.6,506.16 66.59,506.03 67.59,505.91 68.61,505.79 69.65,505.68 70.71,505.57 71.79,505.48 72.88,505.38 73.99,505.29 75.12,505.21 76.26,505.13 77.43,505.05 78.6,504.98 79.8,504.91 81.01,504.84 82.24,504.78 83.48,504.72 84.74,504.66 86.02,504.61 87.31,504.55 88.62,504.5 89.94,504.45 91.28,504.41 92.63,504.36 94,504.32 95.39,504.28 96.78,504.24 98.2,504.2 99.63,504.17 101.07,504.13 102.53,504.1 104,504.07 105.48,504.03 106.98,504 108.5,503.97 110.03,503.95 111.57,503.92 113.12,503.89 114.69,503.87 116.28,503.84 117.87,503.82 119.48,503.8 121.11,503.77 122.75,503.75 124.4,503.73 126.06,503.71 127.74,503.69 129.43,503.67 131.13,503.66 132.85,503.64 134.58,503.62 136.32,503.6 138.08,503.59 139.84,503.57 141.62,503.56 143.42,503.54 145.22,503.53 147.04,503.51 148.87,503.5 150.71,503.49 152.57,503.47 154.44,503.46 156.32,503.45 158.21,503.44 160.11,503.42 162.03,503.41 163.96,503.4 165.9,503.39 167.85,503.38 169.81,503.37 171.79,503.36 173.78,503.35 175.78,503.34 177.79,503.33 179.81,503.32 181.84,503.31 183.89,503.3 185.95,503.3 188.02,503.29 190.1,503.28 192.19,503.27 194.29,503.26 196.4,503.26 198.53,503.25 200.67,503.24 202.81,503.23 204.97,503.23 207.14,503.22 209.32,503.21 211.51,503.21" fill="none" stroke="#55b255" stroke-width="1.1" stroke-linejoin="round"/>
<polyline points="47.6,516.9 47.6,517.08 47.6,517.44 47.6,517.91 47.6,518.43 47.72,518.99 48.07,519.57 48.45,520.15 48.86,520.73 49.31,521.28 49.79,521.81 50.3,522.32 50.84,522.81 51.41,523.26 52,523.69 52.62,524.09 53.26,524.47 53.93,524.82 54.62,525.15 55.34,525.46 56.07,525.75 56.84,526.02 57.62,526.27 58.42,526.51 59.25,526.73 60.1,526.94 60.96,527.13 61.85,527.31 62.76,527.48 63.69,527.65 64.63,527.8 65.6,527.94 66.59,528.08 67.59,528.2 68.61,528.32 69.65,528.44 70.71,528.54 71.79,528.65 72.88,528.74 73.99,528.83 75.12,528.92 76.26,529 77.43,529.08 78.6,529.16 79.8,529.23 81.01,529.3 82.24,529.36 83.48,529.43 84.74,529.48 86.02,529.54 87.31,529.6 88.62,529.65 89.94,529.7 91.28,529.74 92.63,529.79 94,529.83 95.39,529.88 96.78,529.92 98.2,529.96 99.63,529.99 101.07,530.03 102.53,530.06 104,530.1 105.48,530.13 106.98,530.16 108.5,530.19 110.03,530.22 111.57,530.25 113.12,530.27 114.69,530.3 116.28,530.32 117.87,530.35 119.48,530.37 121.11,530.39 122.75,530.42 124.4,530.44 126.06,530.46 127.74,530.48 129.43,530.5 131.13,530.52 132.85,530.54 134.58,530.55 136.32,530.57 138.08,530.59 139.84,530.6 141.62,530.62 143.42,530.63 145.22,530.65 147.04,530.66 148.87,530.68 150.71,530.69 152.57,530.71 154.44,530.72 156.32,530.73 158.21,530.74 160.11,530.76 162.03,530.77 163.96,530.78 165.9,530.79 167.85,530.8 169.81,530.81 171.79,530.82 173.78,530.83 175.78,530.84 177.79,530.85 179.81,530.86 181.84,530.87 183.89,530.88 185.95,530.89 188.02,530.9 190.1,530.9 192.19,530.91 194.29,530.92 196.4,530.93 198.53,530.94 200.67,530.94 202.81,530.95 204.97,530.96 207.14,530.97 209.32,530.97 211.51,530.98" fill="none" stroke="#55b255" stroke-width="1.1" stroke-linejoin="round"/>
<polyline points="47.6,516.9 47.6,516.78 47.6,516.54 47.6,516.24 47.6,515.9 47.72,515.53 48.07,515.16 48.45,514.79 48.86,514.43 49.31,514.08 49.79,513.75 50.3,513.43 50.84,513.14 51.41,512.86 52,512.6 52.62,512.36 53.26,512.13 53.93,511.92 54.62,511.72 55.34,511.54 56.07,511.37 56.84,511.21 57.62,511.06 58.42,510.92 59.25,510.79 60.1,510.67 60.96,510.56 61.85,510.46 62.76,510.36 63.69,510.26 64.63,510.18 65.6,510.09 66.59,510.02 67.59,509.94 68.61,509.88 69.65,509.81 70.71,509.75 71.79,509.69 72.88,509.64 73.99,509.58 75.12,509.54 76.26,509.49 77.43,509.44 78.6,509.4 79.8,509.36 81.01,509.32 82.24,509.29 83.48,509.25 84.74,509.22 86.02,509.19 87.31,509.16 88.62,509.13 89.94,509.1 91.28,509.07 92.63,509.05 94,509.02 95.39,509 96.78,508.98 98.2,508.95 99.63,508.93 101.07,508.91 102.53,508.89 104,508.88 105.48,508.86 106.98,508.84 108.5,508.82 110.03,508.81 111.57,508.79 113.12,508.78 114.69,508.76 116.28,508.75 117.87,508.74 119.48,508.72 121.11,508.71 122.75,508.7 124.4,508.69 126.06,508.67 127.74,508.66 129.43,508.65 131.13,508.64 132.85,508.63 134.58,508.62 136.32,508.61 138.08,508.6 139.84,508.59 141.62,508.59 143.42,508.58 145.22,508.57 147.04,508.56 148.87,508.55 150.71,508.55 152.57,508.54 154.44,508.53 156.32,508.52 158.21,508.52 160.11,508.51 162.03,508.5 163.96,508.5 165.9,508.49 167.85,508.48 169.81,508.48 171.79,508.47 173.78,508.47 175.78,508.46 177.79,508.46 179.81,508.45 181.84,508.45 183.89,508.44 185.95,508.44 188.02,508.43 190.1,508.43 192.19,508.42 194.29,508.42 196.4,508.41 198.53,508.41 200.67,508.41 202.81,508.4 204.97,508.4 207.14,508.39 209.32,508.39 211.51,508.39" fill="none" stroke="#2f5e9e" stroke-width="1.1" stroke-linejoin="round"/>
<polyline points="47.6,516.9 47.6,517.03 47.6,517.28 47.6,517.6 47.6,517.96 47.72,518.35 48.07,518.74 48.45,519.13 48.86,519.51 49.31,519.88 49.79,520.23 50.3,520.56 50.84,520.88 51.41,521.17 52,521.45 52.62,521.7 53.26,521.94 53.93,522.16 54.62,522.37 55.34,522.57 56.07,522.75 56.84,522.91 57.62,523.07 58.42,523.22 59.25,523.35 60.1,523.48 60.96,523.6 61.85,523.71 62.76,523.81 63.69,523.91 64.63,524.01 65.6,524.09 66.59,524.17 67.59,524.25 68.61,524.32 69.65,524.39 70.71,524.46 71.79,524.52 72.88,524.58 73.99,524.63 75.12,524.68 76.26,524.73 77.43,524.78 78.6,524.82 79.8,524.87 81.01,524.91 82.24,524.95 83.48,524.98 84.74,525.02 86.02,525.05 87.31,525.08 88.62,525.11 89.94,525.14 91.28,525.17 92.63,525.2 94,525.22 95.39,525.25 96.78,525.27 98.2,525.3 99.63,525.32 101.07,525.34 102.53,525.36 104,525.38 105.48,525.4 106.98,525.42 108.5,525.43 110.03,525.45 111.57,525.47 113.12,525.48 114.69,525.5 116.28,525.51 117.87,525.53 119.48,525.54 121.11,525.56 122.75,525.57 124.4,525.58 126.06,525.59 127.74,525.6 129.43,525.62 131.13,525.63 132.85,525.64 134.58,525.65 136.32,525.66 138.08,525.67 139.84,525.68 141.62,525.69 143.42,525.7 145.22,525.7 147.04,525.71 148.87,525.72 150.71,525.73 152.57,525.74 154.44,525.75 156.32,525.75 158.21,525.76 160.11,525.77 162.03,525.77 163.96,525.78 165.9,525.79 167.85,525.79 169.81,525.8 171.79,525.81 173.78,525.81 175.78,525.82 177.79,525.82 179.81,525.83 181.84,525.83 183.89,525.84 185.95,525.84 188.02,525.85 190.1,525.85 192.19,525.86 194.29,525.86 196.4,525.87 198.53,525.87 200.67,525.88 202.81,525.88 204.97,525.89 207.14,525.89 209.32,525.89 211.51,525.9" fill="none" stroke="#2f5e9e" stroke-width="1.1" stroke-linejoin="round"/>
<polyline points="47.6,516.9 47.6,516.84 47.6,516.74 47.6,516.6 47.6,516.45 47.72,516.29 48.07,516.13 48.45,515.97 48.86,515.81 49.31,515.66 49.79,515.52 50.3,515.39 50.84,515.27 51.41,515.15 52,515.05 52.62,514.95 53.26,514.85 53.93,514.77 54.62,514.69 55.34,514.62 56.07,514.55 56.84,514.49 57.62,514.43 58.42,514.37 59.25,514.32 60.1,514.28 60.96,514.23 61.85,514.19 62.76,514.15 63.69,514.12 64.63,514.08 65.6,514.05 66.59,514.02 67.59,513.99 68.61,513.97 69.65,513.94 70.71,513.92 71.79,513.9 72.88,513.88 73.99,513.86 75.12,513.84 76.26,513.82 77.43,513.8 78.6,513.79 79.8,513.77 81.01,513.76 82.24,513.74 83.48,513.73 84.74,513.72 86.02,513.71 87.31,513.69 88.62,513.68 89.94,513.67 91.28,513.66 92.63,513.65 94,513.64 95.39,513.63 96.78,513.63 98.2,513.62 99.63,513.61 101.07,513.6 102.53,513.6 104,513.59 105.48,513.58 106.98,513.58 108.5,513.57 110.03,513.56 111.57,513.56 113.12,513.55 114.69,513.55 116.28,513.54 117.87,513.54 119.48,513.53 121.11,513.53 122.75,513.52 124.4,513.52 126.06,513.51 127.74,513.51 129.43,513.5 131.13,513.5 132.85,513.5 134.58,513.49 136.32,513.49 138.08,513.49 139.84,513.48 141.62,513.48 143.42,513.48 145.22,513.47 147.04,513.47 148.87,513.47 150.71,513.46 152.57,513.46 154.44,513.46 156.32,513.46 158.21,513.45 160.11,513.45 162.03,513.45 163.96,513.45 165.9,513.44 167.85,513.44 169.81,513.44 171.79,513.44 173.78,513.44 175.78,513.43 177.79,513.43 179.81,513.43 181.84,513.43 183.89,513.43 185.95,513.42 188.02,513.42 190.1,513.42 192.19,513.42 194.29,513.42 196.4,513.42 198.53,513.41 200.67,513.41 202.81,513.41 204.97,513.41 207.14,513.41 209.32,513.41 211.51,513.41" fill="none" stroke="#c43a5c" stroke-width="1.1" stroke-linejoin="round"/>
<polyline points="47.6,516.9 47.6,516.97 47.6,517.1 47.6,517.26 47.6,517.45 47.72,517.65 48.07,517.85 48.45,518.04 48.86,518.23 49.31,518.41 49.79,518.58 50.3,518.75 50.84,518.9 51.41,519.04 52,519.17 52.62,519.29 53.26,519.4 53.93,519.5 54.62,519.6 55.34,519.69 56.07,519.77 56.84,519.85 57.62,519.92 58.42,519.99 59.25,520.05 60.1,520.11 60.96,520.16 61.85,520.21 62.76,520.26 63.69,520.3 64.63,520.34 65.6,520.38 66.59,520.42 67.59,520.45 68.61,520.48 69.65,520.51 70.71,520.54 71.79,520.57 72.88,520.6 73.99,520.62 75.12,520.64 76.26,520.67 77.43,520.69 78.6,520.71 79.8,520.72 81.01,520.74 82.24,520.76 83.48,520.77 84.74,520.79 86.02,520.8 87.31,520.82 88.62,520.83 89.94,520.85 91.28,520.86 92.63,520.87 94,520.88 95.39,520.89 96.78,520.9 98.2,520.91 99.63,520.92 101.07,520.93 102.53,520.94 104,520.95 105.48,520.96 106.98,520.96 108.5,520.97 110.03,520.98 111.57,520.99 113.12,520.99 114.69,521 116.28,521.01 117.87,521.01 119.48,521.02 121.11,521.02 122.75,521.03 124.4,521.03 126.06,521.04 127.74,521.04 129.43,521.05 131.13,521.05 132.85,521.06 134.58,521.06 136.32,521.07 138.08,521.07 139.84,521.08 141.62,521.08 143.42,521.08 145.22,521.09 147.04,521.09 148.87,521.1 150.71,521.1 152.57,521.1 154.44,521.11 156.32,521.11 158.21,521.11 160.11,521.11 162.03,521.12 163.96,521.12 165.9,521.12 167.85,521.13 169.81,521.13 171.79,521.13 173.78,521.13 175.78,521.14 177.79,521.14 179.81,521.14 181.84,521.14 183.89,521.15 185.95,521.15 188.02,521.15 190.1,521.15 192.19,521.15 194.29,521.16 196.4,521.16 198.53,521.16 200.67,521.16 202.81,521.16 204.97,521.17 207.14,521.17 209.32,521.17 211.51,521.17" fill="none" stroke="#c43a5c" stroke-width="1.1" stroke-linejoin="round"/>
<line x1="47.6" y1="479.4" x2="47.6" y2="561.6" stroke="#1e1e1e" stroke-width="1"/>
<line x1="47.1" y1="561.1" x2="214.8" y2="561.1" stroke="#1e1e1e" stroke-width="1"/>
<line x1="44.4" y1="508.05" x2="47.6" y2="508.05" stroke="#1e1e1e" stroke-width="0.9"/>
<text x="41.3" y="510.35" font-size="6.8" fill="#454545" color="#454545" text-anchor="end">20</text>
<line x1="44.4" y1="525.75" x2="47.6" y2="525.75" stroke="#1e1e1e" stroke-width="0.9"/>
<text x="41.3" y="528.05" font-size="6.8" fill="#454545" color="#454545" text-anchor="end">20</text>
<line x1="44.4" y1="499.2" x2="47.6" y2="499.2" stroke="#1e1e1e" stroke-width="0.9"/>
<text x="41.3" y="501.5" font-size="6.8" fill="#454545" color="#454545" text-anchor="end">40</text>
<line x1="44.4" y1="534.6" x2="47.6" y2="534.6" stroke="#1e1e1e" stroke-width="0.9"/>
<text x="41.3" y="536.9" font-size="6.8" fill="#454545" color="#454545" text-anchor="end">40</text>
<line x1="44.4" y1="490.35" x2="47.6" y2="490.35" stroke="#1e1e1e" stroke-width="0.9"/>
<text x="41.3" y="492.65" font-size="6.8" fill="#454545" color="#454545" text-anchor="end">60</text>
<line x1="44.4" y1="543.45" x2="47.6" y2="543.45" stroke="#1e1e1e" stroke-width="0.9"/>
<text x="41.3" y="545.75" font-size="6.8" fill="#454545" color="#454545" text-anchor="end">60</text>
<line x1="74.4" y1="561.1" x2="74.4" y2="564.4" stroke="#1e1e1e" stroke-width="0.9"/>
<text x="74.4" y="573.7" font-size="6.8" fill="#454545" color="#454545" text-anchor="middle">10</text>
<line x1="102.1" y1="561.1" x2="102.1" y2="564.4" stroke="#1e1e1e" stroke-width="0.9"/>
<text x="102.1" y="573.7" font-size="6.8" fill="#454545" color="#454545" text-anchor="middle">20</text>
<line x1="129.8" y1="561.1" x2="129.8" y2="564.4" stroke="#1e1e1e" stroke-width="0.9"/>
<text x="129.8" y="573.7" font-size="6.8" fill="#454545" color="#454545" text-anchor="middle">30</text>
<line x1="157.5" y1="561.1" x2="157.5" y2="564.4" stroke="#1e1e1e" stroke-width="0.9"/>
<text x="157.5" y="573.7" font-size="6.8" fill="#454545" color="#454545" text-anchor="middle">40</text>
<line x1="185.2" y1="561.1" x2="185.2" y2="564.4" stroke="#1e1e1e" stroke-width="0.9"/>
<text x="185.2" y="573.7" font-size="6.8" fill="#454545" color="#454545" text-anchor="middle">50</text>
<text x="27.7" y="519" font-size="8.8" fill="#454545" color="#454545" text-anchor="middle" textLength="11.8" lengthAdjust="spacingAndGlyphs" transform="rotate(-90 27.7 519)">mm</text>
<text x="131" y="586.4" font-size="8.6" fill="#454545" color="#454545" text-anchor="middle" textLength="25.5" lengthAdjust="spacingAndGlyphs">Minutes</text>
<text x="50.2" y="549.9" font-size="6.6" fill="#454545" color="#454545" textLength="81.3" lengthAdjust="spacingAndGlyphs">TEM’ (value × 0.25 [1/min])</text>
<text x="50.2" y="558.2" font-size="6.6" fill="#454545" color="#454545" textLength="81.3" lengthAdjust="spacingAndGlyphs">TEM” (value × 1.0 [1/min²])</text>
<text x="130.8" y="477" font-size="7" fill="#454545" color="#454545" text-anchor="middle" textLength="10.8" lengthAdjust="spacingAndGlyphs">IL-6</text>
<line x1="48.4" y1="619.3" x2="214.5" y2="619.3" stroke="#5a9e55" stroke-width="0.9" stroke-dasharray="1 1.2"/>
<line x1="48.4" y1="654.5" x2="214.5" y2="654.5" stroke="#5a9e55" stroke-width="0.9" stroke-dasharray="1 1.2"/>
<polyline points="47.6,636.9 47.6,636.77 47.6,636.52 47.6,636.18 47.6,635.8 47.72,635.38 48.07,634.94 48.45,634.49 48.86,634.04 49.31,633.59 49.79,633.15 50.3,632.72 50.84,632.31 51.41,631.91 52,631.53 52.62,631.17 53.26,630.83 53.93,630.51 54.62,630.2 55.34,629.91 56.07,629.63 56.84,629.37 57.62,629.12 58.42,628.89 59.25,628.67 60.1,628.46 60.96,628.26 61.85,628.08 62.76,627.9 63.69,627.73 64.63,627.58 65.6,627.43 66.59,627.28 67.59,627.15 68.61,627.02 69.65,626.9 70.71,626.78 71.79,626.67 72.88,626.57 73.99,626.47 75.12,626.38 76.26,626.28 77.43,626.2 78.6,626.12 79.8,626.04 81.01,625.96 82.24,625.89 83.48,625.82 84.74,625.75 86.02,625.69 87.31,625.63 88.62,625.57 89.94,625.51 91.28,625.46 92.63,625.41 94,625.36 95.39,625.31 96.78,625.27 98.2,625.22 99.63,625.18 101.07,625.14 102.53,625.1 104,625.06 105.48,625.02 106.98,624.99 108.5,624.95 110.03,624.92 111.57,624.89 113.12,624.86 114.69,624.83 116.28,624.8 117.87,624.77 119.48,624.74 121.11,624.72 122.75,624.69 124.4,624.66 126.06,624.64 127.74,624.62 129.43,624.59 131.13,624.57 132.85,624.55 134.58,624.53 136.32,624.51 138.08,624.49 139.84,624.47 141.62,624.45 143.42,624.44 145.22,624.42 147.04,624.4 148.87,624.38 150.71,624.37 152.57,624.35 154.44,624.34 156.32,624.32 158.21,624.31 160.11,624.29 162.03,624.28 163.96,624.27 165.9,624.25 167.85,624.24 169.81,624.23 171.79,624.21 173.78,624.2 175.78,624.19 177.79,624.18 179.81,624.17 181.84,624.16 183.89,624.15 185.95,624.14 188.02,624.13 190.1,624.12 192.19,624.11 194.29,624.1 196.4,624.09 198.53,624.08 200.67,624.07 202.81,624.06 204.97,624.05 207.14,624.04 209.32,624.04 211.51,624.03" fill="none" stroke="#55b255" stroke-width="1.3" stroke-linejoin="round"/>
<polyline points="47.6,636.9 47.6,637.03 47.6,637.28 47.6,637.61 47.6,637.99 47.72,638.41 48.07,638.85 48.45,639.29 48.86,639.74 49.31,640.19 49.79,640.62 50.3,641.05 50.84,641.46 51.41,641.85 52,642.23 52.62,642.58 53.26,642.92 53.93,643.25 54.62,643.55 55.34,643.84 56.07,644.12 56.84,644.38 57.62,644.62 58.42,644.85 59.25,645.07 60.1,645.28 60.96,645.47 61.85,645.66 62.76,645.83 63.69,646 64.63,646.15 65.6,646.3 66.59,646.44 67.59,646.58 68.61,646.71 69.65,646.83 70.71,646.94 71.79,647.05 72.88,647.15 73.99,647.25 75.12,647.35 76.26,647.44 77.43,647.52 78.6,647.6 79.8,647.68 81.01,647.76 82.24,647.83 83.48,647.9 84.74,647.96 86.02,648.03 87.31,648.09 88.62,648.15 89.94,648.2 91.28,648.25 92.63,648.31 94,648.35 95.39,648.4 96.78,648.45 98.2,648.49 99.63,648.53 101.07,648.58 102.53,648.61 104,648.65 105.48,648.69 106.98,648.72 108.5,648.76 110.03,648.79 111.57,648.82 113.12,648.85 114.69,648.88 116.28,648.91 117.87,648.94 119.48,648.97 121.11,648.99 122.75,649.02 124.4,649.04 126.06,649.07 127.74,649.09 129.43,649.11 131.13,649.14 132.85,649.16 134.58,649.18 136.32,649.2 138.08,649.22 139.84,649.24 141.62,649.25 143.42,649.27 145.22,649.29 147.04,649.31 148.87,649.32 150.71,649.34 152.57,649.35 154.44,649.37 156.32,649.39 158.21,649.4 160.11,649.41 162.03,649.43 163.96,649.44 165.9,649.45 167.85,649.47 169.81,649.48 171.79,649.49 173.78,649.5 175.78,649.51 177.79,649.53 179.81,649.54 181.84,649.55 183.89,649.56 185.95,649.57 188.02,649.58 190.1,649.59 192.19,649.6 194.29,649.61 196.4,649.62 198.53,649.63 200.67,649.64 202.81,649.64 204.97,649.65 207.14,649.66 209.32,649.67 211.51,649.68" fill="none" stroke="#55b255" stroke-width="1.3" stroke-linejoin="round"/>
<polyline points="47.6,636.9 47.6,636.77 47.6,636.52 47.6,636.2 47.6,635.82 47.72,635.41 48.07,634.98 48.45,634.54 48.86,634.09 49.31,633.65 49.79,633.22 50.3,632.8 50.84,632.39 51.41,632 52,631.63 52.62,631.27 53.26,630.93 53.93,630.61 54.62,630.3 55.34,630.01 56.07,629.74 56.84,629.48 57.62,629.24 58.42,629 59.25,628.78 60.1,628.58 60.96,628.38 61.85,628.19 62.76,628.02 63.69,627.85 64.63,627.69 65.6,627.54 66.59,627.4 67.59,627.27 68.61,627.14 69.65,627.02 70.71,626.9 71.79,626.79 72.88,626.69 73.99,626.59 75.12,626.49 76.26,626.4 77.43,626.32 78.6,626.23 79.8,626.15 81.01,626.08 82.24,626.01 83.48,625.94 84.74,625.87 86.02,625.81 87.31,625.74 88.62,625.69 89.94,625.63 91.28,625.58 92.63,625.52 94,625.47 95.39,625.43 96.78,625.38 98.2,625.34 99.63,625.29 101.07,625.25 102.53,625.21 104,625.17 105.48,625.14 106.98,625.1 108.5,625.06 110.03,625.03 111.57,625 113.12,624.97 114.69,624.94 116.28,624.91 117.87,624.88 119.48,624.85 121.11,624.83 122.75,624.8 124.4,624.78 126.06,624.75 127.74,624.73 129.43,624.7 131.13,624.68 132.85,624.66 134.58,624.64 136.32,624.62 138.08,624.6 139.84,624.58 141.62,624.56 143.42,624.54 145.22,624.53 147.04,624.51 148.87,624.49 150.71,624.48 152.57,624.46 154.44,624.44 156.32,624.43 158.21,624.41 160.11,624.4 162.03,624.39 163.96,624.37 165.9,624.36 167.85,624.35 169.81,624.33 171.79,624.32 173.78,624.31 175.78,624.3 177.79,624.29 179.81,624.28 181.84,624.26 183.89,624.25 185.95,624.24 188.02,624.23 190.1,624.22 192.19,624.21 194.29,624.2 196.4,624.19 198.53,624.18 200.67,624.18 202.81,624.17 204.97,624.16 207.14,624.15 209.32,624.14 211.51,624.13" fill="none" stroke="#2e7565" stroke-width="1.2" stroke-linejoin="round"/>
<polyline points="47.6,636.9 47.6,637.03 47.6,637.27 47.6,637.59 47.6,637.97 47.72,638.38 48.07,638.8 48.45,639.24 48.86,639.68 49.31,640.12 49.79,640.55 50.3,640.97 50.84,641.37 51.41,641.76 52,642.13 52.62,642.49 53.26,642.82 53.93,643.14 54.62,643.45 55.34,643.73 56.07,644.01 56.84,644.26 57.62,644.51 58.42,644.74 59.25,644.96 60.1,645.16 60.96,645.36 61.85,645.54 62.76,645.71 63.69,645.88 64.63,646.04 65.6,646.19 66.59,646.33 67.59,646.46 68.61,646.59 69.65,646.71 70.71,646.82 71.79,646.93 72.88,647.04 73.99,647.14 75.12,647.23 76.26,647.32 77.43,647.41 78.6,647.49 79.8,647.57 81.01,647.64 82.24,647.71 83.48,647.78 84.74,647.85 86.02,647.91 87.31,647.97 88.62,648.03 89.94,648.09 91.28,648.14 92.63,648.19 94,648.24 95.39,648.29 96.78,648.33 98.2,648.38 99.63,648.42 101.07,648.46 102.53,648.5 104,648.54 105.48,648.58 106.98,648.61 108.5,648.65 110.03,648.68 111.57,648.71 113.12,648.74 114.69,648.77 116.28,648.8 117.87,648.83 119.48,648.86 121.11,648.88 122.75,648.91 124.4,648.93 126.06,648.96 127.74,648.98 129.43,649 131.13,649.03 132.85,649.05 134.58,649.07 136.32,649.09 138.08,649.11 139.84,649.13 141.62,649.15 143.42,649.16 145.22,649.18 147.04,649.2 148.87,649.22 150.71,649.23 152.57,649.25 154.44,649.26 156.32,649.28 158.21,649.29 160.11,649.31 162.03,649.32 163.96,649.33 165.9,649.35 167.85,649.36 169.81,649.37 171.79,649.38 173.78,649.4 175.78,649.41 177.79,649.42 179.81,649.43 181.84,649.44 183.89,649.45 185.95,649.46 188.02,649.47 190.1,649.48 192.19,649.49 194.29,649.5 196.4,649.51 198.53,649.52 200.67,649.53 202.81,649.54 204.97,649.55 207.14,649.56 209.32,649.56 211.51,649.57" fill="none" stroke="#2e7565" stroke-width="1.2" stroke-linejoin="round"/>
<polyline points="47.6,636.9 47.6,636.85 47.6,636.76 47.6,636.64 47.6,636.49 47.6,636.32 47.6,636.14 47.6,635.94 47.6,635.73 47.67,635.51 47.84,635.29 48.03,635.06 48.23,634.83 48.44,634.6 48.66,634.36 48.89,634.13 49.13,633.9 49.37,633.66 49.63,633.43 49.89,633.21 50.17,632.99 50.45,632.77 50.74,632.55 51.03,632.34 51.34,632.13 51.65,631.93 51.97,631.74 52.3,631.54 52.64,631.36 52.98,631.17 53.33,631 53.69,630.82 54.05,630.66 54.42,630.49 54.8,630.33 55.19,630.18 55.58,630.03 55.98,629.88 56.38,629.74 56.79,629.61 57.21,629.47 57.63,629.34 58.06,629.22 58.5,629.1 58.94,628.98 59.39,628.86 59.84,628.75 60.3,628.64 60.77,628.54 61.24,628.44 61.72,628.34 62.2,628.24 62.69,628.15 63.18,628.06 63.68,627.97 64.19,627.88 64.7,627.8 65.22,627.72 65.74,627.64 66.27,627.56 66.8,627.49 67.34,627.42 67.89,627.35 68.43,627.28 68.99,627.21 69.55,627.15 70.11,627.08 70.68,627.02 71.26,626.96 71.84,626.9 72.43,626.85 73.02,626.79 73.61,626.74 74.21,626.69 74.82,626.63 75.43,626.58 76.04,626.54 76.66,626.49 77.29,626.44 77.92,626.4 78.55,626.35 79.19,626.31 79.84,626.27 80.49,626.23 81.14,626.19 81.8,626.15 82.46,626.11 83.13,626.07 83.8,626.03 84.48,626 85.16,625.96 85.85,625.93 86.54,625.9 87.23,625.86 87.93,625.83 88.63,625.8 89.34,625.77 90.06,625.74 90.77,625.71 91.49,625.68 92.22,625.65 92.95,625.63 93.69,625.6 94.43,625.57 95.17,625.55 95.92,625.52 96.67,625.5 97.43,625.47 98.19,625.45 98.95,625.42 99.72,625.4 100.49,625.38 101.27,625.36 102.05,625.34 102.84,625.31 103.63,625.29 104.42,625.27 105.22,625.25 106.02,625.23 106.83,625.21 107.64,625.2" fill="none" stroke="#1c2c48" stroke-width="1.15" stroke-linejoin="round"/>
<polyline points="47.6,636.9 47.6,636.95 47.6,637.04 47.6,637.16 47.6,637.31 47.6,637.47 47.6,637.66 47.6,637.85 47.6,638.06 47.67,638.27 47.84,638.5 48.03,638.72 48.23,638.95 48.44,639.19 48.66,639.42 48.89,639.65 49.13,639.88 49.37,640.11 49.63,640.34 49.89,640.56 50.17,640.79 50.45,641 50.74,641.22 51.03,641.43 51.34,641.63 51.65,641.83 51.97,642.03 52.3,642.22 52.64,642.4 52.98,642.58 53.33,642.76 53.69,642.93 54.05,643.1 54.42,643.26 54.8,643.42 55.19,643.57 55.58,643.72 55.98,643.86 56.38,644 56.79,644.14 57.21,644.27 57.63,644.4 58.06,644.52 58.5,644.64 58.94,644.76 59.39,644.88 59.84,644.99 60.3,645.09 60.77,645.2 61.24,645.3 61.72,645.4 62.2,645.49 62.69,645.59 63.18,645.68 63.68,645.76 64.19,645.85 64.7,645.93 65.22,646.01 65.74,646.09 66.27,646.17 66.8,646.24 67.34,646.31 67.89,646.38 68.43,646.45 68.99,646.52 69.55,646.58 70.11,646.64 70.68,646.7 71.26,646.76 71.84,646.82 72.43,646.88 73.02,646.93 73.61,646.99 74.21,647.04 74.82,647.09 75.43,647.14 76.04,647.19 76.66,647.23 77.29,647.28 77.92,647.33 78.55,647.37 79.19,647.41 79.84,647.45 80.49,647.49 81.14,647.53 81.8,647.57 82.46,647.61 83.13,647.65 83.8,647.68 84.48,647.72 85.16,647.75 85.85,647.79 86.54,647.82 87.23,647.85 87.93,647.89 88.63,647.92 89.34,647.95 90.06,647.98 90.77,648.01 91.49,648.03 92.22,648.06 92.95,648.09 93.69,648.12 94.43,648.14 95.17,648.17 95.92,648.19 96.67,648.22 97.43,648.24 98.19,648.27 98.95,648.29 99.72,648.31 100.49,648.33 101.27,648.36 102.05,648.38 102.84,648.4 103.63,648.42 104.42,648.44 105.22,648.46 106.02,648.48 106.83,648.5 107.64,648.52" fill="none" stroke="#1c2c48" stroke-width="1.15" stroke-linejoin="round"/>
<line x1="47.6" y1="599.2" x2="47.6" y2="681.6" stroke="#1e1e1e" stroke-width="1"/>
<line x1="47.1" y1="681.1" x2="214.8" y2="681.1" stroke="#1e1e1e" stroke-width="1"/>
<line x1="44.4" y1="628.05" x2="47.6" y2="628.05" stroke="#1e1e1e" stroke-width="0.9"/>
<text x="41.3" y="630.35" font-size="6.8" fill="#454545" color="#454545" text-anchor="end">20</text>
<line x1="44.4" y1="645.75" x2="47.6" y2="645.75" stroke="#1e1e1e" stroke-width="0.9"/>
<text x="41.3" y="648.05" font-size="6.8" fill="#454545" color="#454545" text-anchor="end">20</text>
<line x1="44.4" y1="619.2" x2="47.6" y2="619.2" stroke="#1e1e1e" stroke-width="0.9"/>
<text x="41.3" y="621.5" font-size="6.8" fill="#454545" color="#454545" text-anchor="end">40</text>
<line x1="44.4" y1="654.6" x2="47.6" y2="654.6" stroke="#1e1e1e" stroke-width="0.9"/>
<text x="41.3" y="656.9" font-size="6.8" fill="#454545" color="#454545" text-anchor="end">40</text>
<line x1="44.4" y1="610.35" x2="47.6" y2="610.35" stroke="#1e1e1e" stroke-width="0.9"/>
<text x="41.3" y="612.65" font-size="6.8" fill="#454545" color="#454545" text-anchor="end">60</text>
<line x1="44.4" y1="663.45" x2="47.6" y2="663.45" stroke="#1e1e1e" stroke-width="0.9"/>
<text x="41.3" y="665.75" font-size="6.8" fill="#454545" color="#454545" text-anchor="end">60</text>
<line x1="74.4" y1="681.1" x2="74.4" y2="684.4" stroke="#1e1e1e" stroke-width="0.9"/>
<text x="74.4" y="693.7" font-size="6.8" fill="#454545" color="#454545" text-anchor="middle">10</text>
<line x1="102.1" y1="681.1" x2="102.1" y2="684.4" stroke="#1e1e1e" stroke-width="0.9"/>
<text x="102.1" y="693.7" font-size="6.8" fill="#454545" color="#454545" text-anchor="middle">20</text>
<line x1="129.8" y1="681.1" x2="129.8" y2="684.4" stroke="#1e1e1e" stroke-width="0.9"/>
<text x="129.8" y="693.7" font-size="6.8" fill="#454545" color="#454545" text-anchor="middle">30</text>
<line x1="157.5" y1="681.1" x2="157.5" y2="684.4" stroke="#1e1e1e" stroke-width="0.9"/>
<text x="157.5" y="693.7" font-size="6.8" fill="#454545" color="#454545" text-anchor="middle">40</text>
<line x1="185.2" y1="681.1" x2="185.2" y2="684.4" stroke="#1e1e1e" stroke-width="0.9"/>
<text x="185.2" y="693.7" font-size="6.8" fill="#454545" color="#454545" text-anchor="middle">50</text>
<text x="27.7" y="639" font-size="8.8" fill="#454545" color="#454545" text-anchor="middle" textLength="11.8" lengthAdjust="spacingAndGlyphs" transform="rotate(-90 27.7 639)">mm</text>
<text x="131" y="706.4" font-size="8.6" fill="#454545" color="#454545" text-anchor="middle" textLength="25.5" lengthAdjust="spacingAndGlyphs">Minutes</text>
<text x="50.2" y="669.9" font-size="6.6" fill="#454545" color="#454545" textLength="81.3" lengthAdjust="spacingAndGlyphs">TEM’ (value × 0.25 [1/min])</text>
<text x="50.2" y="678.2" font-size="6.6" fill="#454545" color="#454545" textLength="81.3" lengthAdjust="spacingAndGlyphs">TEM” (value × 1.0 [1/min²])</text>
<text x="130.8" y="597" font-size="7" fill="#454545" color="#454545" text-anchor="middle" textLength="27.9" lengthAdjust="spacingAndGlyphs">AQB-565</text>
<line x1="61.7" y1="716.9" x2="71.5" y2="716.9" stroke="#55b255" stroke-width="1"/>
<text x="77" y="719.2" font-size="6.8" fill="#454545" color="#454545" textLength="19.2" lengthAdjust="spacingAndGlyphs">30 min</text>
<line x1="106.3" y1="716.9" x2="117" y2="716.9" stroke="#2f5e9e" stroke-width="1"/>
<text x="122.3" y="719.2" font-size="6.8" fill="#454545" color="#454545" textLength="21.5" lengthAdjust="spacingAndGlyphs">180 min</text>
<line x1="154" y1="716.9" x2="166.3" y2="716.9" stroke="#c43a5c" stroke-width="1"/>
<text x="170" y="719.2" font-size="6.8" fill="#454545" color="#454545" textLength="22.5" lengthAdjust="spacingAndGlyphs">240 min</text>
<rect x="288.6" y="449" width="3.8" height="110.6" fill="#d98a80"/>
<rect x="295.1" y="447" width="3.8" height="112.6" fill="#f6c88c"/>
<rect x="301.6" y="446" width="3.8" height="113.6" fill="#8b98bd"/>
<line x1="290.5" y1="434.4" x2="290.5" y2="452.3" stroke="#bf1a32" stroke-width="0.8"/>
<circle cx="290.5" cy="434.4" r="1.9" stroke="#bf1a32" fill="#ffffff" stroke-width="1.15"/>
<circle cx="290.5" cy="446.8" r="1.9" stroke="#bf1a32" fill="#ffffff" stroke-width="1.15"/>
<circle cx="290.5" cy="449.5" r="1.9" stroke="#bf1a32" fill="#ffffff" stroke-width="1.15"/>
<circle cx="290.5" cy="452.3" r="1.9" stroke="#bf1a32" fill="#ffffff" stroke-width="1.15"/>
<line x1="297" y1="434.4" x2="297" y2="455.7" stroke="#eea12a" stroke-width="0.8"/>
<rect x="295.2" y="432.6" width="3.6" height="3.6" stroke="#eea12a" fill="#f9dcb0" stroke-width="1.15"/>
<rect x="295.2" y="443.6" width="3.6" height="3.6" stroke="#eea12a" fill="#f9dcb0" stroke-width="1.15"/>
<rect x="295.2" y="447.7" width="3.6" height="3.6" stroke="#eea12a" fill="#f9dcb0" stroke-width="1.15"/>
<rect x="295.2" y="453.9" width="3.6" height="3.6" stroke="#eea12a" fill="#ffffff" stroke-width="1.15"/>
<line x1="303.5" y1="435.1" x2="303.5" y2="453" stroke="#183f78" stroke-width="0.8"/>
<polygon points="303.5,432.76 301.45,436.66 305.55,436.66" stroke="#183f78" fill="#ffffff" stroke-width="1.15" stroke-linejoin="miter"/>
<polygon points="303.5,443.06 301.45,446.96 305.55,446.96" stroke="#183f78" fill="#21498a" stroke-width="1.15" stroke-linejoin="miter"/>
<polygon points="303.5,445.66 301.45,449.56 305.55,449.56" stroke="#183f78" fill="#21498a" stroke-width="1.15" stroke-linejoin="miter"/>
<polygon points="303.5,448.16 301.45,452.06 305.55,452.06" stroke="#183f78" fill="#21498a" stroke-width="1.15" stroke-linejoin="miter"/>
<polygon points="303.5,450.66 301.45,454.56 305.55,454.56" stroke="#183f78" fill="#21498a" stroke-width="1.15" stroke-linejoin="miter"/>
<rect x="312.19" y="452" width="3.8" height="107.6" fill="#d98a80"/>
<rect x="318.69" y="486" width="3.8" height="73.6" fill="#f6c88c"/>
<rect x="325.19" y="527" width="3.8" height="32.6" fill="#8b98bd"/>
<line x1="314.09" y1="439.2" x2="314.09" y2="456.4" stroke="#bf1a32" stroke-width="0.8"/>
<circle cx="314.09" cy="439.2" r="1.9" stroke="#bf1a32" fill="#ffffff" stroke-width="1.15"/>
<circle cx="314.09" cy="447.5" r="1.9" stroke="#bf1a32" fill="#ffffff" stroke-width="1.15"/>
<circle cx="314.09" cy="450.5" r="1.9" stroke="#bf1a32" fill="#ffffff" stroke-width="1.15"/>
<circle cx="314.09" cy="453.5" r="1.9" stroke="#bf1a32" fill="#ffffff" stroke-width="1.15"/>
<circle cx="314.09" cy="456.4" r="1.9" stroke="#bf1a32" fill="#ffffff" stroke-width="1.15"/>
<line x1="320.59" y1="475" x2="320.59" y2="498.3" stroke="#eea12a" stroke-width="0.8"/>
<rect x="318.79" y="473.2" width="3.6" height="3.6" stroke="#eea12a" fill="#f9dcb0" stroke-width="1.15"/>
<rect x="318.79" y="478.7" width="3.6" height="3.6" stroke="#eea12a" fill="#f9dcb0" stroke-width="1.15"/>
<rect x="318.79" y="484.2" width="3.6" height="3.6" stroke="#eea12a" fill="#f9dcb0" stroke-width="1.15"/>
<rect x="318.79" y="490.2" width="3.6" height="3.6" stroke="#eea12a" fill="#f9dcb0" stroke-width="1.15"/>
<rect x="318.79" y="496.5" width="3.6" height="3.6" stroke="#eea12a" fill="#f9dcb0" stroke-width="1.15"/>
<line x1="327.09" y1="517" x2="327.09" y2="533" stroke="#183f78" stroke-width="0.8"/>
<polygon points="327.09,514.66 325.04,518.56 329.14,518.56" stroke="#183f78" fill="#21498a" stroke-width="1.15" stroke-linejoin="miter"/>
<polygon points="327.09,518.66 325.04,522.56 329.14,522.56" stroke="#183f78" fill="#21498a" stroke-width="1.15" stroke-linejoin="miter"/>
<polygon points="327.09,522.66 325.04,526.56 329.14,526.56" stroke="#183f78" fill="#21498a" stroke-width="1.15" stroke-linejoin="miter"/>
<polygon points="327.09,526.66 325.04,530.56 329.14,530.56" stroke="#183f78" fill="#21498a" stroke-width="1.15" stroke-linejoin="miter"/>
<polygon points="327.09,530.66 325.04,534.56 329.14,534.56" stroke="#183f78" fill="#21498a" stroke-width="1.15" stroke-linejoin="miter"/>
<circle cx="320.29" cy="466.4" r="0.85" stroke="none" fill="#3a3a3a" stroke-width="0"/>
<circle cx="326.79" cy="498.1" r="0.85" stroke="none" fill="#3a3a3a" stroke-width="0"/>
<rect x="335.78" y="445.4" width="3.8" height="114.2" fill="#d98a80"/>
<rect x="342.28" y="448.8" width="3.8" height="110.8" fill="#f6c88c"/>
<rect x="348.78" y="452" width="3.8" height="107.6" fill="#8b98bd"/>
<line x1="337.68" y1="433.7" x2="337.68" y2="459.8" stroke="#bf1a32" stroke-width="0.8"/>
<circle cx="337.68" cy="433.7" r="1.9" stroke="#bf1a32" fill="#ffffff" stroke-width="1.15"/>
<circle cx="337.68" cy="437.9" r="1.9" stroke="#bf1a32" fill="#ffffff" stroke-width="1.15"/>
<circle cx="337.68" cy="442.7" r="1.9" stroke="#bf1a32" fill="#ffffff" stroke-width="1.15"/>
<circle cx="337.68" cy="459.8" r="1.9" stroke="#bf1a32" fill="#ffffff" stroke-width="1.15"/>
<line x1="344.18" y1="437.9" x2="344.18" y2="457.1" stroke="#eea12a" stroke-width="0.8"/>
<rect x="342.38" y="436.1" width="3.6" height="3.6" stroke="#eea12a" fill="#f9dcb0" stroke-width="1.15"/>
<rect x="342.38" y="439.7" width="3.6" height="3.6" stroke="#eea12a" fill="#f9dcb0" stroke-width="1.15"/>
<rect x="342.38" y="444.2" width="3.6" height="3.6" stroke="#eea12a" fill="#f9dcb0" stroke-width="1.15"/>
<rect x="342.38" y="448.2" width="3.6" height="3.6" stroke="#eea12a" fill="#f9dcb0" stroke-width="1.15"/>
<rect x="342.38" y="452.2" width="3.6" height="3.6" stroke="#eea12a" fill="#f9dcb0" stroke-width="1.15"/>
<rect x="342.38" y="455.3" width="3.6" height="3.6" stroke="#eea12a" fill="#f9dcb0" stroke-width="1.15"/>
<line x1="350.68" y1="446.1" x2="350.68" y2="461.2" stroke="#183f78" stroke-width="0.8"/>
<polygon points="350.68,443.76 348.63,447.66 352.73,447.66" stroke="#183f78" fill="#21498a" stroke-width="1.15" stroke-linejoin="miter"/>
<polygon points="350.68,447.46 348.63,451.36 352.73,451.36" stroke="#183f78" fill="#21498a" stroke-width="1.15" stroke-linejoin="miter"/>
<polygon points="350.68,451.26 348.63,455.16 352.73,455.16" stroke="#183f78" fill="#21498a" stroke-width="1.15" stroke-linejoin="miter"/>
<polygon points="350.68,455.06 348.63,458.96 352.73,458.96" stroke="#183f78" fill="#21498a" stroke-width="1.15" stroke-linejoin="miter"/>
<polygon points="350.68,458.86 348.63,462.76 352.73,462.76" stroke="#183f78" fill="#21498a" stroke-width="1.15" stroke-linejoin="miter"/>
<circle cx="341.83" cy="426.6" r="0.85" stroke="none" fill="#3a3a3a" stroke-width="0"/>
<circle cx="344.93" cy="426.6" r="0.85" stroke="none" fill="#3a3a3a" stroke-width="0"/>
<rect x="359.37" y="452" width="3.8" height="107.6" fill="#d98a80"/>
<rect x="365.87" y="494" width="3.8" height="65.6" fill="#f6c88c"/>
<rect x="372.37" y="521" width="3.8" height="38.6" fill="#8b98bd"/>
<line x1="361.27" y1="438.5" x2="361.27" y2="456.4" stroke="#bf1a32" stroke-width="0.8"/>
<circle cx="361.27" cy="438.5" r="1.9" stroke="#bf1a32" fill="#ffffff" stroke-width="1.15"/>
<circle cx="361.27" cy="446.8" r="1.9" stroke="#bf1a32" fill="#ffffff" stroke-width="1.15"/>
<circle cx="361.27" cy="450" r="1.9" stroke="#bf1a32" fill="#ffffff" stroke-width="1.15"/>
<circle cx="361.27" cy="453.2" r="1.9" stroke="#bf1a32" fill="#ffffff" stroke-width="1.15"/>
<circle cx="361.27" cy="456.4" r="1.9" stroke="#bf1a32" fill="#ffffff" stroke-width="1.15"/>
<line x1="367.77" y1="488.7" x2="367.77" y2="501" stroke="#eea12a" stroke-width="0.8"/>
<rect x="365.97" y="486.9" width="3.6" height="3.6" stroke="#eea12a" fill="#f9dcb0" stroke-width="1.15"/>
<rect x="365.97" y="491" width="3.6" height="3.6" stroke="#eea12a" fill="#f9dcb0" stroke-width="1.15"/>
<rect x="365.97" y="495.2" width="3.6" height="3.6" stroke="#eea12a" fill="#f9dcb0" stroke-width="1.15"/>
<rect x="365.97" y="499.2" width="3.6" height="3.6" stroke="#eea12a" fill="#f9dcb0" stroke-width="1.15"/>
<line x1="374.27" y1="513.1" x2="374.27" y2="527.7" stroke="#183f78" stroke-width="0.8"/>
<polygon points="374.27,510.76 372.22,514.66 376.32,514.66" stroke="#183f78" fill="#21498a" stroke-width="1.15" stroke-linejoin="miter"/>
<polygon points="374.27,514.66 372.22,518.56 376.32,518.56" stroke="#183f78" fill="#21498a" stroke-width="1.15" stroke-linejoin="miter"/>
<polygon points="374.27,518.66 372.22,522.56 376.32,522.56" stroke="#183f78" fill="#21498a" stroke-width="1.15" stroke-linejoin="miter"/>
<polygon points="374.27,522.16 372.22,526.06 376.32,526.06" stroke="#183f78" fill="#21498a" stroke-width="1.15" stroke-linejoin="miter"/>
<polygon points="374.27,525.36 372.22,529.26 376.32,529.26" stroke="#183f78" fill="#21498a" stroke-width="1.15" stroke-linejoin="miter"/>
<circle cx="367.47" cy="479.8" r="0.85" stroke="none" fill="#3a3a3a" stroke-width="0"/>
<circle cx="373.97" cy="501.1" r="0.85" stroke="none" fill="#3a3a3a" stroke-width="0"/>
<rect x="382.96" y="447" width="3.8" height="112.6" fill="#d98a80"/>
<rect x="389.46" y="456" width="3.8" height="103.6" fill="#f6c88c"/>
<rect x="395.96" y="451" width="3.8" height="108.6" fill="#8b98bd"/>
<line x1="384.86" y1="438.2" x2="384.86" y2="455.5" stroke="#bf1a32" stroke-width="0.8"/>
<circle cx="384.86" cy="438.2" r="1.9" stroke="#bf1a32" fill="#ffffff" stroke-width="1.15"/>
<circle cx="384.86" cy="442.5" r="1.9" stroke="#bf1a32" fill="#ffffff" stroke-width="1.15"/>
<circle cx="384.86" cy="446.8" r="1.9" stroke="#bf1a32" fill="#ffffff" stroke-width="1.15"/>
<circle cx="384.86" cy="451.1" r="1.9" stroke="#bf1a32" fill="#ffffff" stroke-width="1.15"/>
<circle cx="384.86" cy="455.5" r="1.9" stroke="#bf1a32" fill="#ffffff" stroke-width="1.15"/>
<line x1="391.36" y1="449.7" x2="391.36" y2="462.1" stroke="#eea12a" stroke-width="0.8"/>
<rect x="389.56" y="447.9" width="3.6" height="3.6" stroke="#eea12a" fill="#f9dcb0" stroke-width="1.15"/>
<rect x="389.56" y="452" width="3.6" height="3.6" stroke="#eea12a" fill="#f9dcb0" stroke-width="1.15"/>
<rect x="389.56" y="456.2" width="3.6" height="3.6" stroke="#eea12a" fill="#f9dcb0" stroke-width="1.15"/>
<rect x="389.56" y="460.3" width="3.6" height="3.6" stroke="#eea12a" fill="#f9dcb0" stroke-width="1.15"/>
<line x1="397.86" y1="439" x2="397.86" y2="458" stroke="#183f78" stroke-width="0.8"/>
<polygon points="397.86,436.66 395.81,440.56 399.91,440.56" stroke="#183f78" fill="#ffffff" stroke-width="1.15" stroke-linejoin="miter"/>
<polygon points="397.86,445.66 395.81,449.56 399.91,449.56" stroke="#183f78" fill="#21498a" stroke-width="1.15" stroke-linejoin="miter"/>
<polygon points="397.86,448.96 395.81,452.86 399.91,452.86" stroke="#183f78" fill="#21498a" stroke-width="1.15" stroke-linejoin="miter"/>
<polygon points="397.86,452.26 395.81,456.16 399.91,456.16" stroke="#183f78" fill="#21498a" stroke-width="1.15" stroke-linejoin="miter"/>
<polygon points="397.86,455.66 395.81,459.56 399.91,459.56" stroke="#183f78" fill="#21498a" stroke-width="1.15" stroke-linejoin="miter"/>
<circle cx="389.01" cy="427.9" r="0.85" stroke="none" fill="#3a3a3a" stroke-width="0"/>
<circle cx="392.11" cy="427.9" r="0.85" stroke="none" fill="#3a3a3a" stroke-width="0"/>
<rect x="406.55" y="446" width="3.8" height="113.6" fill="#d98a80"/>
<rect x="413.05" y="491" width="3.8" height="68.6" fill="#f6c88c"/>
<rect x="419.55" y="527" width="3.8" height="32.6" fill="#8b98bd"/>
<line x1="408.45" y1="438.2" x2="408.45" y2="453" stroke="#bf1a32" stroke-width="0.8"/>
<circle cx="408.45" cy="438.2" r="1.9" stroke="#bf1a32" fill="#ffffff" stroke-width="1.15"/>
<circle cx="408.45" cy="443" r="1.9" stroke="#bf1a32" fill="#ffffff" stroke-width="1.15"/>
<circle cx="408.45" cy="448" r="1.9" stroke="#bf1a32" fill="#ffffff" stroke-width="1.15"/>
<circle cx="408.45" cy="453" r="1.9" stroke="#bf1a32" fill="#ffffff" stroke-width="1.15"/>
<line x1="414.95" y1="480.2" x2="414.95" y2="499.2" stroke="#eea12a" stroke-width="0.8"/>
<rect x="413.15" y="478.4" width="3.6" height="3.6" stroke="#eea12a" fill="#ffffff" stroke-width="1.15"/>
<rect x="413.15" y="490" width="3.6" height="3.6" stroke="#eea12a" fill="#f9dcb0" stroke-width="1.15"/>
<rect x="413.15" y="493.7" width="3.6" height="3.6" stroke="#eea12a" fill="#f9dcb0" stroke-width="1.15"/>
<rect x="413.15" y="497.4" width="3.6" height="3.6" stroke="#eea12a" fill="#f9dcb0" stroke-width="1.15"/>
<line x1="421.45" y1="521.5" x2="421.45" y2="533.9" stroke="#183f78" stroke-width="0.8"/>
<polygon points="421.45,519.16 419.4,523.06 423.5,523.06" stroke="#183f78" fill="#21498a" stroke-width="1.15" stroke-linejoin="miter"/>
<polygon points="421.45,523.26 419.4,527.16 423.5,527.16" stroke="#183f78" fill="#21498a" stroke-width="1.15" stroke-linejoin="miter"/>
<polygon points="421.45,527.46 419.4,531.36 423.5,531.36" stroke="#183f78" fill="#21498a" stroke-width="1.15" stroke-linejoin="miter"/>
<polygon points="421.45,531.56 419.4,535.46 423.5,535.46" stroke="#183f78" fill="#21498a" stroke-width="1.15" stroke-linejoin="miter"/>
<circle cx="414.65" cy="473.1" r="0.85" stroke="none" fill="#3a3a3a" stroke-width="0"/>
<circle cx="421.15" cy="513.1" r="0.85" stroke="none" fill="#3a3a3a" stroke-width="0"/>
<rect x="430.14" y="452" width="3.8" height="107.6" fill="#d98a80"/>
<rect x="436.64" y="496" width="3.8" height="63.6" fill="#f6c88c"/>
<rect x="443.14" y="524" width="3.8" height="35.6" fill="#8b98bd"/>
<line x1="432.04" y1="439" x2="432.04" y2="459.6" stroke="#bf1a32" stroke-width="0.8"/>
<circle cx="432.04" cy="439" r="1.9" stroke="#bf1a32" fill="#ffffff" stroke-width="1.15"/>
<circle cx="432.04" cy="451.4" r="1.9" stroke="#bf1a32" fill="#ffffff" stroke-width="1.15"/>
<circle cx="432.04" cy="455.5" r="1.9" stroke="#bf1a32" fill="#ffffff" stroke-width="1.15"/>
<circle cx="432.04" cy="459.6" r="1.9" stroke="#bf1a32" fill="#ffffff" stroke-width="1.15"/>
<line x1="438.54" y1="488.5" x2="438.54" y2="502.5" stroke="#eea12a" stroke-width="0.8"/>
<rect x="436.74" y="486.7" width="3.6" height="3.6" stroke="#eea12a" fill="#ffffff" stroke-width="1.15"/>
<rect x="436.74" y="494.9" width="3.6" height="3.6" stroke="#eea12a" fill="#f9dcb0" stroke-width="1.15"/>
<rect x="436.74" y="497.8" width="3.6" height="3.6" stroke="#eea12a" fill="#f9dcb0" stroke-width="1.15"/>
<rect x="436.74" y="500.7" width="3.6" height="3.6" stroke="#eea12a" fill="#f9dcb0" stroke-width="1.15"/>
<line x1="445.04" y1="514" x2="445.04" y2="533.9" stroke="#183f78" stroke-width="0.8"/>
<polygon points="445.04,511.66 442.99,515.56 447.09,515.56" stroke="#183f78" fill="#21498a" stroke-width="1.15" stroke-linejoin="miter"/>
<polygon points="445.04,515.66 442.99,519.56 447.09,519.56" stroke="#183f78" fill="#21498a" stroke-width="1.15" stroke-linejoin="miter"/>
<polygon points="445.04,519.66 442.99,523.56 447.09,523.56" stroke="#183f78" fill="#21498a" stroke-width="1.15" stroke-linejoin="miter"/>
<polygon points="445.04,523.66 442.99,527.56 447.09,527.56" stroke="#183f78" fill="#21498a" stroke-width="1.15" stroke-linejoin="miter"/>
<polygon points="445.04,527.66 442.99,531.56 447.09,531.56" stroke="#183f78" fill="#21498a" stroke-width="1.15" stroke-linejoin="miter"/>
<polygon points="445.04,531.56 442.99,535.46 447.09,535.46" stroke="#183f78" fill="#21498a" stroke-width="1.15" stroke-linejoin="miter"/>
<circle cx="438.24" cy="479.7" r="0.85" stroke="none" fill="#3a3a3a" stroke-width="0"/>
<circle cx="444.74" cy="503.8" r="0.85" stroke="none" fill="#3a3a3a" stroke-width="0"/>
<rect x="453.73" y="448" width="3.8" height="111.6" fill="#d98a80"/>
<rect x="460.23" y="489" width="3.8" height="70.6" fill="#f6c88c"/>
<rect x="466.73" y="524" width="3.8" height="35.6" fill="#8b98bd"/>
<line x1="455.63" y1="434.8" x2="455.63" y2="455.6" stroke="#bf1a32" stroke-width="0.8"/>
<circle cx="455.63" cy="434.8" r="1.9" stroke="#bf1a32" fill="#ffffff" stroke-width="1.15"/>
<circle cx="455.63" cy="447.8" r="1.9" stroke="#bf1a32" fill="#ffffff" stroke-width="1.15"/>
<circle cx="455.63" cy="455.6" r="1.9" stroke="#bf1a32" fill="#ffffff" stroke-width="1.15"/>
<line x1="462.13" y1="483.3" x2="462.13" y2="494.5" stroke="#eea12a" stroke-width="0.8"/>
<rect x="460.33" y="481.5" width="3.6" height="3.6" stroke="#eea12a" fill="#f9dcb0" stroke-width="1.15"/>
<rect x="460.33" y="485.2" width="3.6" height="3.6" stroke="#eea12a" fill="#f9dcb0" stroke-width="1.15"/>
<rect x="460.33" y="489" width="3.6" height="3.6" stroke="#eea12a" fill="#f9dcb0" stroke-width="1.15"/>
<rect x="460.33" y="492.7" width="3.6" height="3.6" stroke="#eea12a" fill="#f9dcb0" stroke-width="1.15"/>
<line x1="468.63" y1="520.5" x2="468.63" y2="529.5" stroke="#183f78" stroke-width="0.8"/>
<polygon points="468.63,518.16 466.58,522.06 470.68,522.06" stroke="#183f78" fill="#21498a" stroke-width="1.15" stroke-linejoin="miter"/>
<polygon points="468.63,521.66 466.58,525.56 470.68,525.56" stroke="#183f78" fill="#21498a" stroke-width="1.15" stroke-linejoin="miter"/>
<polygon points="468.63,524.66 466.58,528.56 470.68,528.56" stroke="#183f78" fill="#21498a" stroke-width="1.15" stroke-linejoin="miter"/>
<polygon points="468.63,527.16 466.58,531.06 470.68,531.06" stroke="#183f78" fill="#21498a" stroke-width="1.15" stroke-linejoin="miter"/>
<circle cx="461.83" cy="477" r="0.85" stroke="none" fill="#3a3a3a" stroke-width="0"/>
<circle cx="468.33" cy="513" r="0.85" stroke="none" fill="#3a3a3a" stroke-width="0"/>
<rect x="477.32" y="441" width="3.8" height="118.6" fill="#d98a80"/>
<rect x="483.82" y="447" width="3.8" height="112.6" fill="#f6c88c"/>
<rect x="490.32" y="457" width="3.8" height="102.6" fill="#8b98bd"/>
<line x1="479.22" y1="434.7" x2="479.22" y2="447.1" stroke="#bf1a32" stroke-width="0.8"/>
<circle cx="479.22" cy="434.7" r="1.9" stroke="#bf1a32" fill="#ffffff" stroke-width="1.15"/>
<circle cx="479.22" cy="438.8" r="1.9" stroke="#bf1a32" fill="#ffffff" stroke-width="1.15"/>
<circle cx="479.22" cy="442.9" r="1.9" stroke="#bf1a32" fill="#ffffff" stroke-width="1.15"/>
<circle cx="479.22" cy="447.1" r="1.9" stroke="#bf1a32" fill="#ffffff" stroke-width="1.15"/>
<line x1="485.72" y1="441.9" x2="485.72" y2="460.4" stroke="#eea12a" stroke-width="0.8"/>
<rect x="483.92" y="440.1" width="3.6" height="3.6" stroke="#eea12a" fill="#f9dcb0" stroke-width="1.15"/>
<rect x="483.92" y="444.7" width="3.6" height="3.6" stroke="#eea12a" fill="#f9dcb0" stroke-width="1.15"/>
<rect x="483.92" y="449.2" width="3.6" height="3.6" stroke="#eea12a" fill="#f9dcb0" stroke-width="1.15"/>
<rect x="483.92" y="453.9" width="3.6" height="3.6" stroke="#eea12a" fill="#f9dcb0" stroke-width="1.15"/>
<rect x="483.92" y="458.6" width="3.6" height="3.6" stroke="#eea12a" fill="#f9dcb0" stroke-width="1.15"/>
<line x1="492.22" y1="447" x2="492.22" y2="465.6" stroke="#183f78" stroke-width="0.8"/>
<polygon points="492.22,444.66 490.17,448.56 494.27,448.56" stroke="#183f78" fill="#21498a" stroke-width="1.15" stroke-linejoin="miter"/>
<polygon points="492.22,449.26 490.17,453.16 494.27,453.16" stroke="#183f78" fill="#21498a" stroke-width="1.15" stroke-linejoin="miter"/>
<polygon points="492.22,453.96 490.17,457.86 494.27,457.86" stroke="#183f78" fill="#21498a" stroke-width="1.15" stroke-linejoin="miter"/>
<polygon points="492.22,458.66 490.17,462.56 494.27,462.56" stroke="#183f78" fill="#21498a" stroke-width="1.15" stroke-linejoin="miter"/>
<polygon points="492.22,463.26 490.17,467.16 494.27,467.16" stroke="#183f78" fill="#21498a" stroke-width="1.15" stroke-linejoin="miter"/>
<circle cx="483.37" cy="424" r="0.85" stroke="none" fill="#3a3a3a" stroke-width="0"/>
<circle cx="486.47" cy="424" r="0.85" stroke="none" fill="#3a3a3a" stroke-width="0"/>
<line x1="286.3" y1="385.4" x2="286.3" y2="560.1" stroke="#1e1e1e" stroke-width="1"/>
<line x1="285.8" y1="559.6" x2="500.6" y2="559.6" stroke="#1e1e1e" stroke-width="1"/>
<line x1="283.3" y1="559.6" x2="286.3" y2="559.6" stroke="#1e1e1e" stroke-width="0.9"/>
<text x="279.7" y="562" font-size="7.2" fill="#454545" color="#454545" text-anchor="end">0</text>
<line x1="283.3" y1="518.05" x2="286.3" y2="518.05" stroke="#1e1e1e" stroke-width="0.9"/>
<text x="279.7" y="520.45" font-size="7.2" fill="#454545" color="#454545" text-anchor="end">10</text>
<line x1="283.3" y1="476.5" x2="286.3" y2="476.5" stroke="#1e1e1e" stroke-width="0.9"/>
<text x="279.7" y="478.9" font-size="7.2" fill="#454545" color="#454545" text-anchor="end">20</text>
<line x1="283.3" y1="434.95" x2="286.3" y2="434.95" stroke="#1e1e1e" stroke-width="0.9"/>
<text x="279.7" y="437.35" font-size="7.2" fill="#454545" color="#454545" text-anchor="end">30</text>
<line x1="283.3" y1="393.4" x2="286.3" y2="393.4" stroke="#1e1e1e" stroke-width="0.9"/>
<text x="279.7" y="395.8" font-size="7.2" fill="#454545" color="#454545" text-anchor="end">40</text>
<line x1="284.7" y1="551.29" x2="286.3" y2="551.29" stroke="#1e1e1e" stroke-width="0.7"/>
<line x1="284.7" y1="542.98" x2="286.3" y2="542.98" stroke="#1e1e1e" stroke-width="0.7"/>
<line x1="284.7" y1="534.67" x2="286.3" y2="534.67" stroke="#1e1e1e" stroke-width="0.7"/>
<line x1="284.7" y1="526.36" x2="286.3" y2="526.36" stroke="#1e1e1e" stroke-width="0.7"/>
<line x1="284.7" y1="509.74" x2="286.3" y2="509.74" stroke="#1e1e1e" stroke-width="0.7"/>
<line x1="284.7" y1="501.43" x2="286.3" y2="501.43" stroke="#1e1e1e" stroke-width="0.7"/>
<line x1="284.7" y1="493.12" x2="286.3" y2="493.12" stroke="#1e1e1e" stroke-width="0.7"/>
<line x1="284.7" y1="484.81" x2="286.3" y2="484.81" stroke="#1e1e1e" stroke-width="0.7"/>
<line x1="284.7" y1="468.19" x2="286.3" y2="468.19" stroke="#1e1e1e" stroke-width="0.7"/>
<line x1="284.7" y1="459.88" x2="286.3" y2="459.88" stroke="#1e1e1e" stroke-width="0.7"/>
<line x1="284.7" y1="451.57" x2="286.3" y2="451.57" stroke="#1e1e1e" stroke-width="0.7"/>
<line x1="284.7" y1="443.26" x2="286.3" y2="443.26" stroke="#1e1e1e" stroke-width="0.7"/>
<line x1="284.7" y1="426.64" x2="286.3" y2="426.64" stroke="#1e1e1e" stroke-width="0.7"/>
<line x1="284.7" y1="418.33" x2="286.3" y2="418.33" stroke="#1e1e1e" stroke-width="0.7"/>
<line x1="284.7" y1="410.02" x2="286.3" y2="410.02" stroke="#1e1e1e" stroke-width="0.7"/>
<line x1="284.7" y1="401.71" x2="286.3" y2="401.71" stroke="#1e1e1e" stroke-width="0.7"/>
<line x1="297" y1="559.6" x2="297" y2="562.1" stroke="#1e1e1e" stroke-width="0.8"/>
<line x1="320.59" y1="559.6" x2="320.59" y2="562.1" stroke="#1e1e1e" stroke-width="0.8"/>
<line x1="344.18" y1="559.6" x2="344.18" y2="562.1" stroke="#1e1e1e" stroke-width="0.8"/>
<line x1="367.77" y1="559.6" x2="367.77" y2="562.1" stroke="#1e1e1e" stroke-width="0.8"/>
<line x1="391.36" y1="559.6" x2="391.36" y2="562.1" stroke="#1e1e1e" stroke-width="0.8"/>
<line x1="414.95" y1="559.6" x2="414.95" y2="562.1" stroke="#1e1e1e" stroke-width="0.8"/>
<line x1="438.54" y1="559.6" x2="438.54" y2="562.1" stroke="#1e1e1e" stroke-width="0.8"/>
<line x1="462.13" y1="559.6" x2="462.13" y2="562.1" stroke="#1e1e1e" stroke-width="0.8"/>
<line x1="485.72" y1="559.6" x2="485.72" y2="562.1" stroke="#1e1e1e" stroke-width="0.8"/>
<text x="266.8" y="472.5" font-size="8.2" fill="#454545" color="#454545" text-anchor="middle" textLength="94.5" lengthAdjust="spacingAndGlyphs" transform="rotate(-90 266.8 472.5)">Maximum clot firmness (mm)</text>
<text x="286.2" y="576.6" font-size="7.4" fill="#454545" color="#454545" text-anchor="end" textLength="11.5" lengthAdjust="spacingAndGlyphs">IL-6</text>
<line x1="295" y1="574" x2="299" y2="574" stroke="#555555" stroke-width="0.85"/>
<line x1="318.59" y1="574" x2="322.59" y2="574" stroke="#555555" stroke-width="0.85"/>
<line x1="320.59" y1="572" x2="320.59" y2="576" stroke="#555555" stroke-width="0.85"/>
<line x1="342.18" y1="574" x2="346.18" y2="574" stroke="#555555" stroke-width="0.85"/>
<line x1="344.18" y1="572" x2="344.18" y2="576" stroke="#555555" stroke-width="0.85"/>
<line x1="365.77" y1="574" x2="369.77" y2="574" stroke="#555555" stroke-width="0.85"/>
<line x1="367.77" y1="572" x2="367.77" y2="576" stroke="#555555" stroke-width="0.85"/>
<line x1="389.36" y1="574" x2="393.36" y2="574" stroke="#555555" stroke-width="0.85"/>
<line x1="391.36" y1="572" x2="391.36" y2="576" stroke="#555555" stroke-width="0.85"/>
<line x1="412.95" y1="574" x2="416.95" y2="574" stroke="#555555" stroke-width="0.85"/>
<line x1="414.95" y1="572" x2="414.95" y2="576" stroke="#555555" stroke-width="0.85"/>
<line x1="436.54" y1="574" x2="440.54" y2="574" stroke="#555555" stroke-width="0.85"/>
<line x1="438.54" y1="572" x2="438.54" y2="576" stroke="#555555" stroke-width="0.85"/>
<line x1="460.13" y1="574" x2="464.13" y2="574" stroke="#555555" stroke-width="0.85"/>
<line x1="462.13" y1="572" x2="462.13" y2="576" stroke="#555555" stroke-width="0.85"/>
<line x1="483.72" y1="574" x2="487.72" y2="574" stroke="#555555" stroke-width="0.85"/>
<line x1="485.72" y1="572" x2="485.72" y2="576" stroke="#555555" stroke-width="0.85"/>
<text x="286.2" y="588.9" font-size="7.4" fill="#454545" color="#454545" text-anchor="end" textLength="14" lengthAdjust="spacingAndGlyphs">NAC</text>
<line x1="295" y1="586.3" x2="299" y2="586.3" stroke="#555555" stroke-width="0.85"/>
<line x1="318.59" y1="586.3" x2="322.59" y2="586.3" stroke="#555555" stroke-width="0.85"/>
<line x1="342.18" y1="586.3" x2="346.18" y2="586.3" stroke="#555555" stroke-width="0.85"/>
<line x1="344.18" y1="584.3" x2="344.18" y2="588.3" stroke="#555555" stroke-width="0.85"/>
<line x1="365.77" y1="586.3" x2="369.77" y2="586.3" stroke="#555555" stroke-width="0.85"/>
<line x1="389.36" y1="586.3" x2="393.36" y2="586.3" stroke="#555555" stroke-width="0.85"/>
<line x1="412.95" y1="586.3" x2="416.95" y2="586.3" stroke="#555555" stroke-width="0.85"/>
<line x1="436.54" y1="586.3" x2="440.54" y2="586.3" stroke="#555555" stroke-width="0.85"/>
<line x1="460.13" y1="586.3" x2="464.13" y2="586.3" stroke="#555555" stroke-width="0.85"/>
<line x1="483.72" y1="586.3" x2="487.72" y2="586.3" stroke="#555555" stroke-width="0.85"/>
<text x="286.2" y="601.6" font-size="7.4" fill="#454545" color="#454545" text-anchor="end" textLength="28.5" lengthAdjust="spacingAndGlyphs">L-NMMA</text>
<line x1="295" y1="599" x2="299" y2="599" stroke="#555555" stroke-width="0.85"/>
<line x1="318.59" y1="599" x2="322.59" y2="599" stroke="#555555" stroke-width="0.85"/>
<line x1="342.18" y1="599" x2="346.18" y2="599" stroke="#555555" stroke-width="0.85"/>
<line x1="365.77" y1="599" x2="369.77" y2="599" stroke="#555555" stroke-width="0.85"/>
<line x1="367.77" y1="597" x2="367.77" y2="601" stroke="#555555" stroke-width="0.85"/>
<line x1="389.36" y1="599" x2="393.36" y2="599" stroke="#555555" stroke-width="0.85"/>
<line x1="412.95" y1="599" x2="416.95" y2="599" stroke="#555555" stroke-width="0.85"/>
<line x1="436.54" y1="599" x2="440.54" y2="599" stroke="#555555" stroke-width="0.85"/>
<line x1="460.13" y1="599" x2="464.13" y2="599" stroke="#555555" stroke-width="0.85"/>
<line x1="483.72" y1="599" x2="487.72" y2="599" stroke="#555555" stroke-width="0.85"/>
<text x="286.2" y="614.1" font-size="7.4" fill="#454545" color="#454545" text-anchor="end" textLength="37.4" lengthAdjust="spacingAndGlyphs">Mito-Tempo</text>
<line x1="295" y1="611.5" x2="299" y2="611.5" stroke="#555555" stroke-width="0.85"/>
<line x1="318.59" y1="611.5" x2="322.59" y2="611.5" stroke="#555555" stroke-width="0.85"/>
<line x1="342.18" y1="611.5" x2="346.18" y2="611.5" stroke="#555555" stroke-width="0.85"/>
<line x1="365.77" y1="611.5" x2="369.77" y2="611.5" stroke="#555555" stroke-width="0.85"/>
<line x1="389.36" y1="611.5" x2="393.36" y2="611.5" stroke="#555555" stroke-width="0.85"/>
<line x1="391.36" y1="609.5" x2="391.36" y2="613.5" stroke="#555555" stroke-width="0.85"/>
<line x1="412.95" y1="611.5" x2="416.95" y2="611.5" stroke="#555555" stroke-width="0.85"/>
<line x1="436.54" y1="611.5" x2="440.54" y2="611.5" stroke="#555555" stroke-width="0.85"/>
<line x1="460.13" y1="611.5" x2="464.13" y2="611.5" stroke="#555555" stroke-width="0.85"/>
<line x1="483.72" y1="611.5" x2="487.72" y2="611.5" stroke="#555555" stroke-width="0.85"/>
<text x="286.2" y="626.1" font-size="7.4" fill="#454545" color="#454545" text-anchor="end" textLength="25.5" lengthAdjust="spacingAndGlyphs">4-ABAH</text>
<line x1="295" y1="623.5" x2="299" y2="623.5" stroke="#555555" stroke-width="0.85"/>
<line x1="318.59" y1="623.5" x2="322.59" y2="623.5" stroke="#555555" stroke-width="0.85"/>
<line x1="342.18" y1="623.5" x2="346.18" y2="623.5" stroke="#555555" stroke-width="0.85"/>
<line x1="365.77" y1="623.5" x2="369.77" y2="623.5" stroke="#555555" stroke-width="0.85"/>
<line x1="389.36" y1="623.5" x2="393.36" y2="623.5" stroke="#555555" stroke-width="0.85"/>
<line x1="412.95" y1="623.5" x2="416.95" y2="623.5" stroke="#555555" stroke-width="0.85"/>
<line x1="414.95" y1="621.5" x2="414.95" y2="625.5" stroke="#555555" stroke-width="0.85"/>
<line x1="436.54" y1="623.5" x2="440.54" y2="623.5" stroke="#555555" stroke-width="0.85"/>
<line x1="460.13" y1="623.5" x2="464.13" y2="623.5" stroke="#555555" stroke-width="0.85"/>
<line x1="483.72" y1="623.5" x2="487.72" y2="623.5" stroke="#555555" stroke-width="0.85"/>
<text x="286.2" y="638.9" font-size="7.4" fill="#454545" color="#454545" text-anchor="end" textLength="28.1" lengthAdjust="spacingAndGlyphs">Apocynin</text>
<line x1="295" y1="636.3" x2="299" y2="636.3" stroke="#555555" stroke-width="0.85"/>
<line x1="318.59" y1="636.3" x2="322.59" y2="636.3" stroke="#555555" stroke-width="0.85"/>
<line x1="342.18" y1="636.3" x2="346.18" y2="636.3" stroke="#555555" stroke-width="0.85"/>
<line x1="365.77" y1="636.3" x2="369.77" y2="636.3" stroke="#555555" stroke-width="0.85"/>
<line x1="389.36" y1="636.3" x2="393.36" y2="636.3" stroke="#555555" stroke-width="0.85"/>
<line x1="412.95" y1="636.3" x2="416.95" y2="636.3" stroke="#555555" stroke-width="0.85"/>
<line x1="436.54" y1="636.3" x2="440.54" y2="636.3" stroke="#555555" stroke-width="0.85"/>
<line x1="438.54" y1="634.3" x2="438.54" y2="638.3" stroke="#555555" stroke-width="0.85"/>
<line x1="460.13" y1="636.3" x2="464.13" y2="636.3" stroke="#555555" stroke-width="0.85"/>
<line x1="483.72" y1="636.3" x2="487.72" y2="636.3" stroke="#555555" stroke-width="0.85"/>
<text x="286.2" y="651.1" font-size="7.4" fill="#454545" color="#454545" text-anchor="end" textLength="13" lengthAdjust="spacingAndGlyphs">TXA</text>
<line x1="295" y1="648.5" x2="299" y2="648.5" stroke="#555555" stroke-width="0.85"/>
<line x1="318.59" y1="648.5" x2="322.59" y2="648.5" stroke="#555555" stroke-width="0.85"/>
<line x1="342.18" y1="648.5" x2="346.18" y2="648.5" stroke="#555555" stroke-width="0.85"/>
<line x1="365.77" y1="648.5" x2="369.77" y2="648.5" stroke="#555555" stroke-width="0.85"/>
<line x1="389.36" y1="648.5" x2="393.36" y2="648.5" stroke="#555555" stroke-width="0.85"/>
<line x1="412.95" y1="648.5" x2="416.95" y2="648.5" stroke="#555555" stroke-width="0.85"/>
<line x1="436.54" y1="648.5" x2="440.54" y2="648.5" stroke="#555555" stroke-width="0.85"/>
<line x1="460.13" y1="648.5" x2="464.13" y2="648.5" stroke="#555555" stroke-width="0.85"/>
<line x1="462.13" y1="646.5" x2="462.13" y2="650.5" stroke="#555555" stroke-width="0.85"/>
<line x1="483.72" y1="648.5" x2="487.72" y2="648.5" stroke="#555555" stroke-width="0.85"/>
<text x="286.2" y="663.4" font-size="7.4" fill="#454545" color="#454545" text-anchor="end" textLength="28.2" lengthAdjust="spacingAndGlyphs">AQB-565</text>
<line x1="295" y1="660.8" x2="299" y2="660.8" stroke="#555555" stroke-width="0.85"/>
<line x1="318.59" y1="660.8" x2="322.59" y2="660.8" stroke="#555555" stroke-width="0.85"/>
<line x1="342.18" y1="660.8" x2="346.18" y2="660.8" stroke="#555555" stroke-width="0.85"/>
<line x1="365.77" y1="660.8" x2="369.77" y2="660.8" stroke="#555555" stroke-width="0.85"/>
<line x1="389.36" y1="660.8" x2="393.36" y2="660.8" stroke="#555555" stroke-width="0.85"/>
<line x1="412.95" y1="660.8" x2="416.95" y2="660.8" stroke="#555555" stroke-width="0.85"/>
<line x1="436.54" y1="660.8" x2="440.54" y2="660.8" stroke="#555555" stroke-width="0.85"/>
<line x1="460.13" y1="660.8" x2="464.13" y2="660.8" stroke="#555555" stroke-width="0.85"/>
<line x1="483.72" y1="660.8" x2="487.72" y2="660.8" stroke="#555555" stroke-width="0.85"/>
<line x1="485.72" y1="658.8" x2="485.72" y2="662.8" stroke="#555555" stroke-width="0.85"/>
<circle cx="334.8" cy="677.7" r="1.6" stroke="#bf1a32" fill="none" stroke-width="0.9"/>
<text x="340" y="680.3" font-size="7.3" fill="#454545" color="#454545" textLength="33.6" lengthAdjust="spacingAndGlyphs">30 minutes</text>
<rect x="383.55" y="676.05" width="3.3" height="3.3" stroke="#eea12a" fill="none" stroke-width="0.9"/>
<text x="390.1" y="680.3" font-size="7.3" fill="#454545" color="#454545" textLength="23.2" lengthAdjust="spacingAndGlyphs">3 hours</text>
<polygon points="425.5,675.85 423.7,679.27 427.3,679.27" stroke="#183f78" fill="none" stroke-width="0.9" stroke-linejoin="miter"/>
<text x="430.1" y="680.3" font-size="7.3" fill="#454545" color="#454545" textLength="23.4" lengthAdjust="spacingAndGlyphs">4 hours</text>
<rect x="0.5" y="0.5" width="519" height="727" fill="none" stroke="#505050" stroke-width="1.4"/>
</svg>
</body></html>
